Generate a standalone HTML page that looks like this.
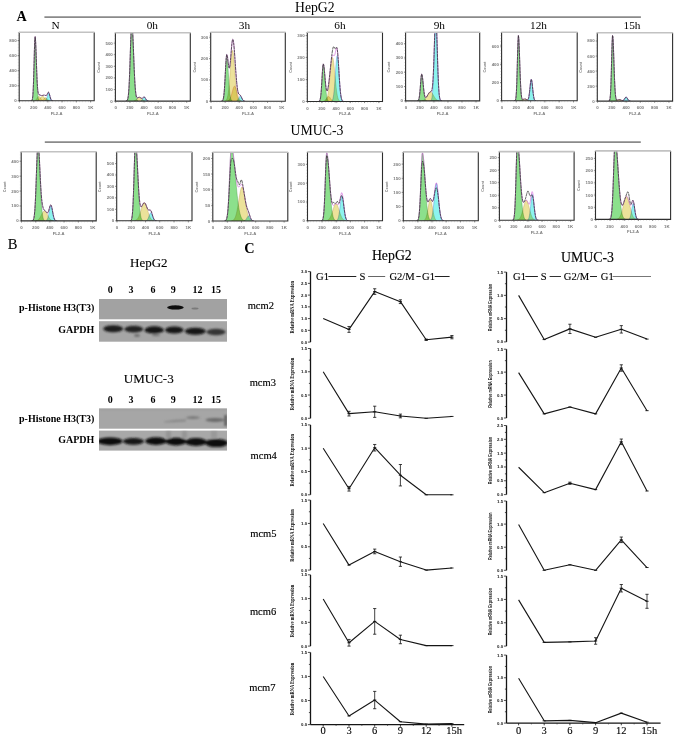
<!DOCTYPE html>
<html><head><meta charset="utf-8"><style>
html,body{margin:0;padding:0;background:#fff;}
#r{position:relative;width:675px;height:737px;overflow:hidden;background:#fff;}
svg{position:absolute;left:0;top:0;}

</style></head><body><div id="r">
<svg width="675" height="737" viewBox="0 0 675 737">
<text x="16.4" y="21.2" font-family="&quot;Liberation Serif&quot;, serif" font-size="14.2" font-weight="bold" text-anchor="start" fill="#000" >A</text>
<line x1="44.4" y1="17.1" x2="640.9" y2="17.1" stroke="#8a8a8a" stroke-width="1.8" />
<text x="295" y="11.6" font-family="&quot;Liberation Serif&quot;, serif" font-size="13.7" text-anchor="start" fill="#000" >HepG2</text>
<line x1="44.8" y1="142.1" x2="640.8" y2="142.1" stroke="#8a8a8a" stroke-width="1.8" />
<text x="290.6" y="134.9" font-family="&quot;Liberation Serif&quot;, serif" font-size="13.8" text-anchor="start" fill="#000" >UMUC-3</text>
<text x="55.5" y="29.4" font-family="&quot;Liberation Serif&quot;, serif" font-size="11.3" text-anchor="middle" fill="#000" >N</text>
<text x="152.3" y="29.4" font-family="&quot;Liberation Serif&quot;, serif" font-size="11.3" text-anchor="middle" fill="#000" >0h</text>
<text x="244.5" y="29.4" font-family="&quot;Liberation Serif&quot;, serif" font-size="11.3" text-anchor="middle" fill="#000" >3h</text>
<text x="340" y="29.4" font-family="&quot;Liberation Serif&quot;, serif" font-size="11.3" text-anchor="middle" fill="#000" >6h</text>
<text x="439.3" y="29.4" font-family="&quot;Liberation Serif&quot;, serif" font-size="11.3" text-anchor="middle" fill="#000" >9h</text>
<text x="538.5" y="29.4" font-family="&quot;Liberation Serif&quot;, serif" font-size="11.3" text-anchor="middle" fill="#000" >12h</text>
<text x="632" y="29.4" font-family="&quot;Liberation Serif&quot;, serif" font-size="11.3" text-anchor="middle" fill="#000" >15h</text>
<clipPath id="c19_32"><rect x="19.2" y="32.3" width="75" height="68.5"/></clipPath>
<g clip-path="url(#c19_32)">
<g style="isolation:isolate">
<path d="M32,100.8 32,100.28 32.4,99.13 32.8,96.26 33.2,90.27 33.6,80.02 34,65.85 34.4,50.71 34.8,39.62 35.2,37 35.6,41.72 36,51.41 36.4,63.53 36.8,75.42 37.2,85.19 37.6,92.14 38,96.46 38.4,98.84 38.8,100 39.2,100.5 L39.2,100.8Z" fill="#8ce08c" stroke="#3c8c3c" stroke-width="0.45" stroke-opacity="0.8" style="mix-blend-mode:multiply"/>
<path d="M34.8,100.8 34.8,100.6 35.2,100.44 35.6,100.19 36,99.83 36.4,99.34 36.8,98.74 37.2,98.07 37.6,97.4 38,96.83 38.4,96.44 38.8,96.3 39.2,96.44 39.6,96.83 40,97.4 40.4,98.07 40.8,98.74 41.2,99.34 41.6,99.83 42,100.19 42.4,100.44 42.8,100.6 L42.8,100.8Z" fill="#ece29a" stroke="#b89848" stroke-width="0.45" stroke-opacity="0.8" style="mix-blend-mode:multiply"/>
<path d="M36.8,100.8 36.8,100.64 37.2,100.55 37.6,100.42 38,100.24 38.4,100.01 38.8,99.71 39.2,99.34 39.6,98.91 40,98.44 40.4,97.95 40.8,97.46 41.2,97.02 41.6,96.66 42,96.41 42.4,96.3 42.8,96.34 43.2,96.52 43.6,96.83 44,97.23 44.4,97.7 44.8,98.19 45.2,98.68 45.6,99.13 46,99.53 46.4,99.86 46.8,100.13 47.2,100.34 47.6,100.49 48,100.6 L48,100.8Z" fill="#ece29a" stroke="#b89848" stroke-width="0.45" stroke-opacity="0.8" style="mix-blend-mode:multiply"/>
<path d="M41.6,100.8 41.6,100.64 42,100.51 42.4,100.31 42.8,100.03 43.2,99.66 43.6,99.22 44,98.74 44.4,98.27 44.8,97.89 45.2,97.66 45.6,97.61 46,97.75 46.4,98.07 46.8,98.5 47.2,98.98 47.6,99.45 48,99.86 48.4,100.18 48.8,100.42 49.2,100.58 L49.2,100.8Z" fill="#ece29a" stroke="#b89848" stroke-width="0.45" stroke-opacity="0.8" style="mix-blend-mode:multiply"/>
<path d="M45.2,100.8 45.2,100.6 45.6,100.35 46,99.88 46.4,99.1 46.8,97.96 47.2,96.53 47.6,94.99 48,93.67 48.4,92.9 48.8,92.9 49.2,93.67 49.6,94.99 50,96.53 50.4,97.96 50.8,99.1 51.2,99.88 51.6,100.35 52,100.6 L52,100.8Z" fill="#8cf4ee" stroke="#3c6cd0" stroke-width="0.45" stroke-opacity="0.8" style="mix-blend-mode:multiply"/>
</g>
<path d="M30.8,100.79 31.2,100.77 31.6,100.66 32,100.28 32.4,99.13 32.8,96.25 33.2,90.26 33.6,80 34,65.8 34.4,50.6 34.8,39.41 35.2,36.63 35.6,41.08 36,50.38 36.4,61.98 36.8,73.2 37.2,82.22 37.6,88.37 38,91.93 38.4,93.68 38.8,94.4 39.2,94.68 39.6,94.84 40,95.01 40.4,95.19 40.8,95.36 41.2,95.47 41.6,95.52 42,95.51 42.4,95.46 42.8,95.37 43.2,95.28 43.6,95.2 44,95.14 44.4,95.14 44.8,95.2 45.2,95.34 45.6,95.49 46,95.56 46.4,95.43 46.8,95 47.2,94.25 47.6,93.33 48,92.53 48.4,92.16 48.8,92.45 49.2,93.41 49.6,94.85 50,96.45 50.4,97.93 50.8,99.08 51.2,99.87 51.6,100.35 52,100.6 52.4,100.72 52.8,100.77" fill="none" stroke="#d060d8" stroke-width="0.6"/>
<path d="M30.8,100.79 31.2,100.77 31.6,100.66 32,100.28 32.4,99.13 32.8,96.25 33.2,90.26 33.6,80 34,65.8 34.4,50.6 34.8,39.41 35.2,36.63 35.6,41.08 36,50.38 36.4,61.98 36.8,73.2 37.2,82.22 37.6,88.37 38,91.93 38.4,93.68 38.8,94.4 39.2,94.68 39.6,94.84 40,95.01 40.4,95.19 40.8,95.36 41.2,95.47 41.6,95.52 42,95.51 42.4,95.46 42.8,95.37 43.2,95.28 43.6,95.2 44,95.14 44.4,95.14 44.8,95.2 45.2,95.34 45.6,95.49 46,95.56 46.4,95.43 46.8,95 47.2,94.25 47.6,93.33 48,92.53 48.4,92.16 48.8,92.45 49.2,93.41 49.6,94.85 50,96.45 50.4,97.93 50.8,99.08 51.2,99.87 51.6,100.35 52,100.6 52.4,100.72 52.8,100.77" fill="none" stroke="#2e2e2e" stroke-width="0.75" stroke-dasharray="3,0.5"/>
</g>
<path d="M19.2,32.3 V100.8 H94.2 V32.3" fill="none" stroke="#2e2e2e" stroke-width="1.1"/>
<line x1="18.9" y1="32.3" x2="94.5" y2="32.3" stroke="#c2c2c2" stroke-width="1.6" />
<line x1="17.6" y1="100.8" x2="19.2" y2="100.8" stroke="#444" stroke-width="0.6" />
<text x="16.6" y="102.3" font-family="&quot;Liberation Sans&quot;, sans-serif" font-size="4.4" font-weight="bold" text-anchor="end" fill="#7a7a7a" >0</text>
<line x1="17.6" y1="85.73" x2="19.2" y2="85.73" stroke="#444" stroke-width="0.6" />
<text x="16.6" y="87.23" font-family="&quot;Liberation Sans&quot;, sans-serif" font-size="4.4" font-weight="bold" text-anchor="end" fill="#7a7a7a" >200</text>
<line x1="17.6" y1="70.66" x2="19.2" y2="70.66" stroke="#444" stroke-width="0.6" />
<text x="16.6" y="72.16" font-family="&quot;Liberation Sans&quot;, sans-serif" font-size="4.4" font-weight="bold" text-anchor="end" fill="#7a7a7a" >400</text>
<line x1="17.6" y1="55.59" x2="19.2" y2="55.59" stroke="#444" stroke-width="0.6" />
<text x="16.6" y="57.09" font-family="&quot;Liberation Sans&quot;, sans-serif" font-size="4.4" font-weight="bold" text-anchor="end" fill="#7a7a7a" >600</text>
<line x1="17.6" y1="40.51" x2="19.2" y2="40.51" stroke="#444" stroke-width="0.6" />
<text x="16.6" y="42.01" font-family="&quot;Liberation Sans&quot;, sans-serif" font-size="4.4" font-weight="bold" text-anchor="end" fill="#7a7a7a" >800</text>
<line x1="18.3" y1="32.3" x2="18.3" y2="100.8" stroke="#888" stroke-width="0.5" stroke-dasharray="0.5,2.5"/>
<line x1="19.5" y1="100.8" x2="19.5" y2="102.4" stroke="#444" stroke-width="0.6" />
<text x="19.5" y="108.9" font-family="&quot;Liberation Sans&quot;, sans-serif" font-size="4.4" font-weight="bold" text-anchor="middle" fill="#7a7a7a" >0</text>
<line x1="33.7" y1="100.8" x2="33.7" y2="102.4" stroke="#444" stroke-width="0.6" />
<text x="33.7" y="108.9" font-family="&quot;Liberation Sans&quot;, sans-serif" font-size="4.4" font-weight="bold" text-anchor="middle" fill="#7a7a7a" >200</text>
<line x1="47.9" y1="100.8" x2="47.9" y2="102.4" stroke="#444" stroke-width="0.6" />
<text x="47.9" y="108.9" font-family="&quot;Liberation Sans&quot;, sans-serif" font-size="4.4" font-weight="bold" text-anchor="middle" fill="#7a7a7a" >400</text>
<line x1="62.1" y1="100.8" x2="62.1" y2="102.4" stroke="#444" stroke-width="0.6" />
<text x="62.1" y="108.9" font-family="&quot;Liberation Sans&quot;, sans-serif" font-size="4.4" font-weight="bold" text-anchor="middle" fill="#7a7a7a" >600</text>
<line x1="76.3" y1="100.8" x2="76.3" y2="102.4" stroke="#444" stroke-width="0.6" />
<text x="76.3" y="108.9" font-family="&quot;Liberation Sans&quot;, sans-serif" font-size="4.4" font-weight="bold" text-anchor="middle" fill="#7a7a7a" >800</text>
<line x1="90.5" y1="100.8" x2="90.5" y2="102.4" stroke="#444" stroke-width="0.6" />
<text x="90.5" y="108.9" font-family="&quot;Liberation Sans&quot;, sans-serif" font-size="4.4" font-weight="bold" text-anchor="middle" fill="#7a7a7a" >1K</text>
<line x1="19.2" y1="101.7" x2="94.2" y2="101.7" stroke="#888" stroke-width="0.5" stroke-dasharray="0.5,2.5"/>
<text x="56.7" y="114.6" font-family="&quot;Liberation Sans&quot;, sans-serif" font-size="4.2" font-weight="bold" text-anchor="middle" fill="#7a7a7a" >FL2-A</text>
<clipPath id="c115_32"><rect x="115.4" y="32.7" width="74.9" height="68.4"/></clipPath>
<g clip-path="url(#c115_32)">
<g style="isolation:isolate">
<path d="M126.6,101.1 126.6,100.91 127,100.63 127.4,100.04 127.8,98.87 128.2,96.72 128.6,93.09 129,87.44 129.4,79.41 129.8,69.03 130.2,56.94 130.6,44.46 131,33.44 131.4,25.82 131.8,23.1 132.2,25 132.6,30.44 133,38.64 133.4,48.56 133.8,59.03 134.2,69.03 134.6,77.84 135,85.04 135.4,90.54 135.8,94.5 136.2,97.17 136.6,98.87 137,99.9 137.4,100.48 137.8,100.8 L137.8,101.1Z" fill="#8ce08c" stroke="#3c8c3c" stroke-width="0.45" stroke-opacity="0.8" style="mix-blend-mode:multiply"/>
<path d="M133.8,101.1 133.8,100.93 134.2,100.84 134.6,100.71 135,100.54 135.4,100.31 135.8,100.03 136.2,99.69 136.6,99.31 137,98.9 137.4,98.48 137.8,98.09 138.2,97.75 138.6,97.49 139,97.34 139.4,97.3 139.8,97.4 140.2,97.61 140.6,97.91 141,98.28 141.4,98.69 141.8,99.11 142.2,99.51 142.6,99.87 143,100.18 143.4,100.43 143.8,100.63 144.2,100.78 144.6,100.89 L144.6,101.1Z" fill="#ece29a" stroke="#b89848" stroke-width="0.45" stroke-opacity="0.8" style="mix-blend-mode:multiply"/>
<path d="M141,101.1 141,100.86 141.4,100.66 141.8,100.33 142.2,99.87 142.6,99.28 143,98.63 143.4,98.01 143.8,97.53 144.2,97.31 144.6,97.39 145,97.75 145.4,98.31 145.8,98.96 146.2,99.59 146.6,100.11 147,100.51 147.4,100.77 147.8,100.93 L147.8,101.1Z" fill="#8cf4ee" stroke="#3c6cd0" stroke-width="0.45" stroke-opacity="0.8" style="mix-blend-mode:multiply"/>
</g>
<path d="M125.8,101.07 126.2,101.03 126.6,100.91 127,100.63 127.4,100.04 127.8,98.87 128.2,96.72 128.6,93.09 129,87.44 129.4,79.41 129.8,69.03 130.2,56.94 130.6,44.46 131,33.44 131.4,25.82 131.8,23.09 132.2,24.98 132.6,30.4 133,38.58 133.4,48.45 133.8,58.86 134.2,68.77 134.6,77.45 135,84.48 135.4,89.75 135.8,93.42 136.2,95.76 136.6,97.08 137,97.7 137.4,97.87 137.8,97.79 138.2,97.61 138.6,97.42 139,97.31 139.4,97.29 139.8,97.37 140.2,97.55 140.6,97.79 141,98.04 141.4,98.25 141.8,98.34 142.2,98.27 142.6,98.05 143,97.71 143.4,97.34 143.8,97.07 144.2,96.99 144.6,97.18 145,97.61 145.4,98.23 145.8,98.91 146.2,99.56 146.6,100.1 147,100.5 147.4,100.77 147.8,100.93 148.2,101.02 148.6,101.07" fill="none" stroke="#d060d8" stroke-width="0.6"/>
<path d="M125.8,101.07 126.2,101.03 126.6,100.91 127,100.63 127.4,100.04 127.8,98.87 128.2,96.72 128.6,93.09 129,87.44 129.4,79.41 129.8,69.03 130.2,56.94 130.6,44.46 131,33.44 131.4,25.82 131.8,23.09 132.2,24.98 132.6,30.4 133,38.58 133.4,48.45 133.8,58.86 134.2,68.77 134.6,77.45 135,84.48 135.4,89.75 135.8,93.42 136.2,95.76 136.6,97.08 137,97.7 137.4,97.87 137.8,97.79 138.2,97.61 138.6,97.42 139,97.31 139.4,97.29 139.8,97.37 140.2,97.55 140.6,97.79 141,98.04 141.4,98.25 141.8,98.34 142.2,98.27 142.6,98.05 143,97.71 143.4,97.34 143.8,97.07 144.2,96.99 144.6,97.18 145,97.61 145.4,98.23 145.8,98.91 146.2,99.56 146.6,100.1 147,100.5 147.4,100.77 147.8,100.93 148.2,101.02 148.6,101.07" fill="none" stroke="#2e2e2e" stroke-width="0.75" stroke-dasharray="3,0.5"/>
</g>
<path d="M115.4,32.7 V101.1 H190.3 V32.7" fill="none" stroke="#2e2e2e" stroke-width="1.1"/>
<line x1="115.1" y1="32.7" x2="190.6" y2="32.7" stroke="#c2c2c2" stroke-width="1.6" />
<line x1="113.8" y1="101.1" x2="115.4" y2="101.1" stroke="#444" stroke-width="0.6" />
<text x="112.8" y="102.6" font-family="&quot;Liberation Sans&quot;, sans-serif" font-size="4.4" font-weight="bold" text-anchor="end" fill="#7a7a7a" >0</text>
<line x1="113.8" y1="89.51" x2="115.4" y2="89.51" stroke="#444" stroke-width="0.6" />
<text x="112.8" y="91.01" font-family="&quot;Liberation Sans&quot;, sans-serif" font-size="4.4" font-weight="bold" text-anchor="end" fill="#7a7a7a" >100</text>
<line x1="113.8" y1="77.91" x2="115.4" y2="77.91" stroke="#444" stroke-width="0.6" />
<text x="112.8" y="79.41" font-family="&quot;Liberation Sans&quot;, sans-serif" font-size="4.4" font-weight="bold" text-anchor="end" fill="#7a7a7a" >200</text>
<line x1="113.8" y1="66.32" x2="115.4" y2="66.32" stroke="#444" stroke-width="0.6" />
<text x="112.8" y="67.82" font-family="&quot;Liberation Sans&quot;, sans-serif" font-size="4.4" font-weight="bold" text-anchor="end" fill="#7a7a7a" >300</text>
<line x1="113.8" y1="54.73" x2="115.4" y2="54.73" stroke="#444" stroke-width="0.6" />
<text x="112.8" y="56.23" font-family="&quot;Liberation Sans&quot;, sans-serif" font-size="4.4" font-weight="bold" text-anchor="end" fill="#7a7a7a" >400</text>
<line x1="113.8" y1="43.13" x2="115.4" y2="43.13" stroke="#444" stroke-width="0.6" />
<text x="112.8" y="44.63" font-family="&quot;Liberation Sans&quot;, sans-serif" font-size="4.4" font-weight="bold" text-anchor="end" fill="#7a7a7a" >500</text>
<line x1="114.5" y1="32.7" x2="114.5" y2="101.1" stroke="#888" stroke-width="0.5" stroke-dasharray="0.5,2.5"/>
<line x1="115.7" y1="101.1" x2="115.7" y2="102.7" stroke="#444" stroke-width="0.6" />
<text x="115.7" y="109.2" font-family="&quot;Liberation Sans&quot;, sans-serif" font-size="4.4" font-weight="bold" text-anchor="middle" fill="#7a7a7a" >0</text>
<line x1="129.88" y1="101.1" x2="129.88" y2="102.7" stroke="#444" stroke-width="0.6" />
<text x="129.88" y="109.2" font-family="&quot;Liberation Sans&quot;, sans-serif" font-size="4.4" font-weight="bold" text-anchor="middle" fill="#7a7a7a" >200</text>
<line x1="144.06" y1="101.1" x2="144.06" y2="102.7" stroke="#444" stroke-width="0.6" />
<text x="144.06" y="109.2" font-family="&quot;Liberation Sans&quot;, sans-serif" font-size="4.4" font-weight="bold" text-anchor="middle" fill="#7a7a7a" >400</text>
<line x1="158.24" y1="101.1" x2="158.24" y2="102.7" stroke="#444" stroke-width="0.6" />
<text x="158.24" y="109.2" font-family="&quot;Liberation Sans&quot;, sans-serif" font-size="4.4" font-weight="bold" text-anchor="middle" fill="#7a7a7a" >600</text>
<line x1="172.42" y1="101.1" x2="172.42" y2="102.7" stroke="#444" stroke-width="0.6" />
<text x="172.42" y="109.2" font-family="&quot;Liberation Sans&quot;, sans-serif" font-size="4.4" font-weight="bold" text-anchor="middle" fill="#7a7a7a" >800</text>
<line x1="186.6" y1="101.1" x2="186.6" y2="102.7" stroke="#444" stroke-width="0.6" />
<text x="186.6" y="109.2" font-family="&quot;Liberation Sans&quot;, sans-serif" font-size="4.4" font-weight="bold" text-anchor="middle" fill="#7a7a7a" >1K</text>
<line x1="115.4" y1="102" x2="190.3" y2="102" stroke="#888" stroke-width="0.5" stroke-dasharray="0.5,2.5"/>
<text x="152.85" y="114.9" font-family="&quot;Liberation Sans&quot;, sans-serif" font-size="4.2" font-weight="bold" text-anchor="middle" fill="#7a7a7a" >FL2-A</text>
<text x="100.2" y="67.4" font-family="&quot;Liberation Sans&quot;, sans-serif" font-size="3.7" font-weight="bold" text-anchor="middle" fill="#7a7a7a" transform="rotate(-90 100.2 67.4)">Count</text>
<clipPath id="c210_32"><rect x="210.7" y="32.3" width="74.6" height="68.9"/></clipPath>
<g clip-path="url(#c210_32)">
<g style="isolation:isolate">
<path d="M222.3,101.2 222.3,100.88 222.7,100.44 223.1,99.55 223.5,97.9 223.9,95.11 224.3,90.85 224.7,84.98 225.1,77.78 225.5,70.03 225.9,62.98 226.3,58 226.7,56.2 227.1,57.43 227.5,60.92 227.9,66.12 228.3,72.3 228.7,78.68 229.1,84.59 229.5,89.61 229.9,93.55 230.3,96.42 230.7,98.38 231.1,99.62 231.5,100.36 231.9,100.78 232.3,101 L232.3,101.2Z" fill="#8ce08c" stroke="#3c8c3c" stroke-width="0.45" stroke-opacity="0.8" style="mix-blend-mode:multiply"/>
<path d="M225.1,101.2 225.1,101.02 225.5,100.88 225.9,100.63 226.3,100.24 226.7,99.62 227.1,98.69 227.5,97.35 227.9,95.47 228.3,92.96 228.7,89.73 229.1,85.75 229.5,81.07 229.9,75.83 230.3,70.27 230.7,64.71 231.1,59.55 231.5,55.21 231.9,52.06 232.3,50.41 232.7,50.41 233.1,52.06 233.5,55.21 233.9,59.55 234.3,64.71 234.7,70.27 235.1,75.83 235.5,81.07 235.9,85.75 236.3,89.73 236.7,92.96 237.1,95.47 237.5,97.35 237.9,98.69 238.3,99.62 238.7,100.24 239.1,100.63 239.5,100.88 239.9,101.02 L239.9,101.2Z" fill="#ece29a" stroke="#b89848" stroke-width="0.45" stroke-opacity="0.8" style="mix-blend-mode:multiply"/>
<path d="M227.5,101.2 227.5,101.01 227.9,100.9 228.3,100.72 228.7,100.47 229.1,100.11 229.5,99.63 229.9,99 230.3,98.19 230.7,97.19 231.1,96.02 231.5,94.69 231.9,93.23 232.3,91.72 232.7,90.24 233.1,88.86 233.5,87.7 233.9,86.82 234.3,86.32 234.7,86.21 235.1,86.52 235.5,87.22 235.9,88.25 236.3,89.53 236.7,90.97 237.1,92.48 237.5,93.97 237.9,95.37 238.3,96.63 238.7,97.71 239.1,98.61 239.5,99.33 239.9,99.89 240.3,100.31 240.7,100.61 241.1,100.82 241.5,100.96 L241.5,101.2Z" fill="#ece29a" stroke="#e07048" stroke-width="0.45" stroke-opacity="0.8" style="mix-blend-mode:multiply"/>
<path d="M236.7,101.2 236.7,100.92 237.1,100.69 237.5,100.32 237.9,99.81 238.3,99.14 238.7,98.37 239.1,97.57 239.5,96.86 239.9,96.37 240.3,96.2 240.7,96.37 241.1,96.86 241.5,97.57 241.9,98.37 242.3,99.14 242.7,99.81 243.1,100.32 243.5,100.69 243.9,100.92 L243.9,101.2Z" fill="#8cf4ee" stroke="#3c6cd0" stroke-width="0.45" stroke-opacity="0.8" style="mix-blend-mode:multiply"/>
</g>
<path d="M221.1,101.18 221.5,101.15 221.9,101.07 222.3,100.88 222.7,100.44 223.1,99.54 223.5,97.89 223.9,95.08 224.3,90.8 224.7,84.88 225.1,77.6 225.5,69.7 225.9,62.39 226.3,57 226.7,54.55 227.1,54.81 227.5,56.87 227.9,60.09 228.3,63.58 228.7,66.47 229.1,68.05 229.5,67.91 229.9,65.98 230.3,62.47 230.7,57.88 231.1,52.79 231.5,47.86 231.9,43.68 232.3,40.74 232.7,39.36 233.1,39.69 233.5,41.69 233.9,45.17 234.3,49.82 234.7,55.27 235.1,61.14 235.5,67.06 235.9,72.73 236.3,77.91 236.7,82.45 237.1,86.24 237.5,89.24 237.9,91.47 238.3,92.99 238.7,93.92 239.1,94.42 239.5,94.67 239.9,94.89 240.3,95.21 240.7,95.73 241.1,96.46 241.5,97.32 241.9,98.22 242.3,99.05 242.7,99.76 243.1,100.3 243.5,100.67 243.9,100.91 244.3,101.05 244.7,101.13 245.1,101.17" fill="none" stroke="#d060d8" stroke-width="0.6"/>
<path d="M221.1,101.18 221.5,101.15 221.9,101.07 222.3,100.88 222.7,100.44 223.1,99.54 223.5,97.89 223.9,95.08 224.3,90.8 224.7,84.88 225.1,77.6 225.5,69.7 225.9,62.39 226.3,57 226.7,54.55 227.1,54.81 227.5,56.87 227.9,60.09 228.3,63.58 228.7,66.47 229.1,68.05 229.5,67.91 229.9,65.98 230.3,62.47 230.7,57.88 231.1,52.79 231.5,47.86 231.9,43.68 232.3,40.74 232.7,39.36 233.1,39.69 233.5,41.69 233.9,45.17 234.3,49.82 234.7,55.27 235.1,61.14 235.5,67.06 235.9,72.73 236.3,77.91 236.7,82.45 237.1,86.24 237.5,89.24 237.9,91.47 238.3,92.99 238.7,93.92 239.1,94.42 239.5,94.67 239.9,94.89 240.3,95.21 240.7,95.73 241.1,96.46 241.5,97.32 241.9,98.22 242.3,99.05 242.7,99.76 243.1,100.3 243.5,100.67 243.9,100.91 244.3,101.05 244.7,101.13 245.1,101.17" fill="none" stroke="#2e2e2e" stroke-width="0.75" stroke-dasharray="3,0.5"/>
</g>
<path d="M210.7,32.3 V101.2 H285.3 V32.3" fill="none" stroke="#2e2e2e" stroke-width="1.1"/>
<line x1="210.4" y1="32.3" x2="285.6" y2="32.3" stroke="#c2c2c2" stroke-width="1.6" />
<line x1="209.1" y1="101.2" x2="210.7" y2="101.2" stroke="#444" stroke-width="0.6" />
<text x="208.1" y="102.7" font-family="&quot;Liberation Sans&quot;, sans-serif" font-size="4.4" font-weight="bold" text-anchor="end" fill="#7a7a7a" >0</text>
<line x1="209.1" y1="79.87" x2="210.7" y2="79.87" stroke="#444" stroke-width="0.6" />
<text x="208.1" y="81.37" font-family="&quot;Liberation Sans&quot;, sans-serif" font-size="4.4" font-weight="bold" text-anchor="end" fill="#7a7a7a" >100</text>
<line x1="209.1" y1="58.54" x2="210.7" y2="58.54" stroke="#444" stroke-width="0.6" />
<text x="208.1" y="60.04" font-family="&quot;Liberation Sans&quot;, sans-serif" font-size="4.4" font-weight="bold" text-anchor="end" fill="#7a7a7a" >200</text>
<line x1="209.1" y1="37.21" x2="210.7" y2="37.21" stroke="#444" stroke-width="0.6" />
<text x="208.1" y="38.71" font-family="&quot;Liberation Sans&quot;, sans-serif" font-size="4.4" font-weight="bold" text-anchor="end" fill="#7a7a7a" >300</text>
<line x1="209.8" y1="32.3" x2="209.8" y2="101.2" stroke="#888" stroke-width="0.5" stroke-dasharray="0.5,2.5"/>
<line x1="211" y1="101.2" x2="211" y2="102.8" stroke="#444" stroke-width="0.6" />
<text x="211" y="109.3" font-family="&quot;Liberation Sans&quot;, sans-serif" font-size="4.4" font-weight="bold" text-anchor="middle" fill="#7a7a7a" >0</text>
<line x1="225.12" y1="101.2" x2="225.12" y2="102.8" stroke="#444" stroke-width="0.6" />
<text x="225.12" y="109.3" font-family="&quot;Liberation Sans&quot;, sans-serif" font-size="4.4" font-weight="bold" text-anchor="middle" fill="#7a7a7a" >200</text>
<line x1="239.24" y1="101.2" x2="239.24" y2="102.8" stroke="#444" stroke-width="0.6" />
<text x="239.24" y="109.3" font-family="&quot;Liberation Sans&quot;, sans-serif" font-size="4.4" font-weight="bold" text-anchor="middle" fill="#7a7a7a" >400</text>
<line x1="253.36" y1="101.2" x2="253.36" y2="102.8" stroke="#444" stroke-width="0.6" />
<text x="253.36" y="109.3" font-family="&quot;Liberation Sans&quot;, sans-serif" font-size="4.4" font-weight="bold" text-anchor="middle" fill="#7a7a7a" >600</text>
<line x1="267.48" y1="101.2" x2="267.48" y2="102.8" stroke="#444" stroke-width="0.6" />
<text x="267.48" y="109.3" font-family="&quot;Liberation Sans&quot;, sans-serif" font-size="4.4" font-weight="bold" text-anchor="middle" fill="#7a7a7a" >800</text>
<line x1="281.6" y1="101.2" x2="281.6" y2="102.8" stroke="#444" stroke-width="0.6" />
<text x="281.6" y="109.3" font-family="&quot;Liberation Sans&quot;, sans-serif" font-size="4.4" font-weight="bold" text-anchor="middle" fill="#7a7a7a" >1K</text>
<line x1="210.7" y1="102.1" x2="285.3" y2="102.1" stroke="#888" stroke-width="0.5" stroke-dasharray="0.5,2.5"/>
<text x="248" y="115" font-family="&quot;Liberation Sans&quot;, sans-serif" font-size="4.2" font-weight="bold" text-anchor="middle" fill="#7a7a7a" >FL2-A</text>
<text x="195.5" y="67.25" font-family="&quot;Liberation Sans&quot;, sans-serif" font-size="3.7" font-weight="bold" text-anchor="middle" fill="#7a7a7a" transform="rotate(-90 195.5 67.25)">Count</text>
<clipPath id="c307_32"><rect x="307.3" y="32.3" width="75.2" height="69.2"/></clipPath>
<g clip-path="url(#c307_32)">
<g style="isolation:isolate">
<path d="M319.3,101.5 319.3,101.17 319.7,100.69 320.1,99.69 320.5,97.82 320.9,94.7 321.3,90.05 321.7,83.96 322.1,77.07 322.5,70.55 322.9,65.83 323.3,64.1 323.7,65.12 324.1,68.02 324.5,72.35 324.9,77.48 325.3,82.78 325.7,87.69 326.1,91.87 326.5,95.14 326.9,97.53 327.3,99.15 327.7,100.19 328.1,100.81 328.5,101.15 328.9,101.34 L328.9,101.5Z" fill="#8ce08c" stroke="#3c8c3c" stroke-width="0.45" stroke-opacity="0.8" style="mix-blend-mode:multiply"/>
<path d="M323.3,101.5 323.3,101.33 323.7,101.22 324.1,101.06 324.5,100.82 324.9,100.51 325.3,100.11 325.7,99.62 326.1,99.07 326.5,98.47 326.9,97.87 327.3,97.32 327.7,96.88 328.1,96.6 328.5,96.5 328.9,96.6 329.3,96.88 329.7,97.32 330.1,97.87 330.5,98.47 330.9,99.07 331.3,99.62 331.7,100.11 332.1,100.51 332.5,100.82 332.9,101.06 333.3,101.22 333.7,101.33 L333.7,101.5Z" fill="#ece29a" stroke="#b89848" stroke-width="0.45" stroke-opacity="0.8" style="mix-blend-mode:multiply"/>
<path d="M324.5,101.5 324.5,101.33 324.9,101.21 325.3,101.01 325.7,100.71 326.1,100.24 326.5,99.57 326.9,98.61 327.3,97.29 327.7,95.55 328.1,93.3 328.5,90.53 328.9,87.22 329.3,83.41 329.7,79.22 330.1,74.81 330.5,70.41 330.9,66.27 331.3,62.67 331.7,59.88 332.1,58.11 332.5,57.5 332.9,58.11 333.3,59.88 333.7,62.67 334.1,66.27 334.5,70.41 334.9,74.81 335.3,79.22 335.7,83.41 336.1,87.22 336.5,90.53 336.9,93.3 337.3,95.55 337.7,97.29 338.1,98.61 338.5,99.57 338.9,100.24 339.3,100.71 339.7,101.01 340.1,101.21 340.5,101.33 L340.5,101.5Z" fill="#ece29a" stroke="#b89848" stroke-width="0.45" stroke-opacity="0.8" style="mix-blend-mode:multiply"/>
<path d="M331.3,101.5 331.3,101.29 331.7,101.07 332.1,100.67 332.5,99.98 332.9,98.85 333.3,97.1 333.7,94.55 334.1,91.06 334.5,86.57 334.9,81.17 335.3,75.15 335.7,68.99 336.1,63.34 336.5,58.85 336.9,56.13 337.3,55.57 337.7,57.24 338.1,60.91 338.5,66.06 338.9,72.05 339.3,78.21 339.7,83.97 340.1,88.94 340.5,92.93 340.9,95.94 341.3,98.06 341.7,99.48 342.1,100.37 342.5,100.9 342.9,101.19 L342.9,101.5Z" fill="#8cf4ee" stroke="#3c6cd0" stroke-width="0.45" stroke-opacity="0.8" style="mix-blend-mode:multiply"/>
</g>
<path d="M318.1,101.49 318.5,101.46 318.9,101.38 319.3,101.17 319.7,100.69 320.1,99.69 320.5,97.82 320.9,94.69 321.3,90.04 321.7,83.95 322.1,77.04 322.5,70.49 322.9,65.72 323.3,63.9 323.7,64.79 324.1,67.48 324.5,71.5 324.9,76.2 325.3,80.9 325.7,85.02 326.1,88.18 326.5,90.17 326.9,91 327.3,90.77 327.7,89.62 328.1,87.71 328.5,85.18 328.9,82.15 329.3,78.72 329.7,75.01 330.1,71.15 330.5,67.32 330.9,63.73 331.3,60.58 331.7,58.06 332.1,56.29 332.5,55.3 332.9,55.01 333.3,55.2 333.7,55.55 334.1,55.73 334.5,55.42 334.9,54.45 335.3,52.85 335.7,50.9 336.1,49.05 336.5,47.88 336.9,47.94 337.3,49.62 337.7,53.03 338.1,58.01 338.5,64.13 338.9,70.79 339.3,77.41 339.7,83.48 340.1,88.64 340.5,92.76 340.9,95.84 341.3,98.01 341.7,99.45 342.1,100.35 342.5,100.89 342.9,101.19 343.3,101.35 343.7,101.43 344.1,101.47" fill="none" stroke="#d060d8" stroke-width="0.6"/>
<path d="M318.1,101.49 318.5,101.46 318.9,101.38 319.3,101.17 319.7,100.69 320.1,99.69 320.5,97.82 320.9,94.69 321.3,90.04 321.7,83.95 322.1,77.04 322.5,70.49 322.9,65.72 323.3,63.9 323.7,64.79 324.1,67.48 324.5,71.5 324.9,76.2 325.3,80.9 325.7,85.02 326.1,88.18 326.5,90.17 326.9,91 327.3,90.77 327.7,89.62 328.1,87.71 328.5,85.18 328.9,82.15 329.3,78.71 329.7,74.98 330.1,71.07 330.5,67.12 330.9,63.25 331.3,59.55 331.7,56.11 332.1,52.99 332.5,50.3 332.9,48.22 333.3,46.95 333.7,46.58 334.1,47.01 334.5,47.83 334.9,48.54 335.3,48.73 335.7,48.33 336.1,47.61 336.5,47.16 336.9,47.62 337.3,49.49 337.7,52.99 338.1,58 338.5,64.12 338.9,70.79 339.3,77.41 339.7,83.48 340.1,88.64 340.5,92.76 340.9,95.84 341.3,98.01 341.7,99.45 342.1,100.35 342.5,100.89 342.9,101.19 343.3,101.35 343.7,101.43 344.1,101.47" fill="none" stroke="#2e2e2e" stroke-width="0.75" stroke-dasharray="3,0.5"/>
</g>
<path d="M307.3,32.3 V101.5 H382.5 V32.3" fill="none" stroke="#2e2e2e" stroke-width="1.1"/>
<line x1="307" y1="32.3" x2="382.8" y2="32.3" stroke="#c2c2c2" stroke-width="1.6" />
<line x1="305.7" y1="101.5" x2="307.3" y2="101.5" stroke="#444" stroke-width="0.6" />
<text x="304.7" y="103" font-family="&quot;Liberation Sans&quot;, sans-serif" font-size="4.4" font-weight="bold" text-anchor="end" fill="#7a7a7a" >0</text>
<line x1="305.7" y1="79.53" x2="307.3" y2="79.53" stroke="#444" stroke-width="0.6" />
<text x="304.7" y="81.03" font-family="&quot;Liberation Sans&quot;, sans-serif" font-size="4.4" font-weight="bold" text-anchor="end" fill="#7a7a7a" >100</text>
<line x1="305.7" y1="57.56" x2="307.3" y2="57.56" stroke="#444" stroke-width="0.6" />
<text x="304.7" y="59.06" font-family="&quot;Liberation Sans&quot;, sans-serif" font-size="4.4" font-weight="bold" text-anchor="end" fill="#7a7a7a" >200</text>
<line x1="305.7" y1="35.6" x2="307.3" y2="35.6" stroke="#444" stroke-width="0.6" />
<text x="304.7" y="37.1" font-family="&quot;Liberation Sans&quot;, sans-serif" font-size="4.4" font-weight="bold" text-anchor="end" fill="#7a7a7a" >300</text>
<line x1="306.4" y1="32.3" x2="306.4" y2="101.5" stroke="#888" stroke-width="0.5" stroke-dasharray="0.5,2.5"/>
<line x1="307.6" y1="101.5" x2="307.6" y2="103.1" stroke="#444" stroke-width="0.6" />
<text x="307.6" y="109.6" font-family="&quot;Liberation Sans&quot;, sans-serif" font-size="4.4" font-weight="bold" text-anchor="middle" fill="#7a7a7a" >0</text>
<line x1="321.84" y1="101.5" x2="321.84" y2="103.1" stroke="#444" stroke-width="0.6" />
<text x="321.84" y="109.6" font-family="&quot;Liberation Sans&quot;, sans-serif" font-size="4.4" font-weight="bold" text-anchor="middle" fill="#7a7a7a" >200</text>
<line x1="336.08" y1="101.5" x2="336.08" y2="103.1" stroke="#444" stroke-width="0.6" />
<text x="336.08" y="109.6" font-family="&quot;Liberation Sans&quot;, sans-serif" font-size="4.4" font-weight="bold" text-anchor="middle" fill="#7a7a7a" >400</text>
<line x1="350.32" y1="101.5" x2="350.32" y2="103.1" stroke="#444" stroke-width="0.6" />
<text x="350.32" y="109.6" font-family="&quot;Liberation Sans&quot;, sans-serif" font-size="4.4" font-weight="bold" text-anchor="middle" fill="#7a7a7a" >600</text>
<line x1="364.56" y1="101.5" x2="364.56" y2="103.1" stroke="#444" stroke-width="0.6" />
<text x="364.56" y="109.6" font-family="&quot;Liberation Sans&quot;, sans-serif" font-size="4.4" font-weight="bold" text-anchor="middle" fill="#7a7a7a" >800</text>
<line x1="378.8" y1="101.5" x2="378.8" y2="103.1" stroke="#444" stroke-width="0.6" />
<text x="378.8" y="109.6" font-family="&quot;Liberation Sans&quot;, sans-serif" font-size="4.4" font-weight="bold" text-anchor="middle" fill="#7a7a7a" >1K</text>
<line x1="307.3" y1="102.4" x2="382.5" y2="102.4" stroke="#888" stroke-width="0.5" stroke-dasharray="0.5,2.5"/>
<text x="344.9" y="115.3" font-family="&quot;Liberation Sans&quot;, sans-serif" font-size="4.2" font-weight="bold" text-anchor="middle" fill="#7a7a7a" >FL2-A</text>
<text x="292.1" y="67.4" font-family="&quot;Liberation Sans&quot;, sans-serif" font-size="3.7" font-weight="bold" text-anchor="middle" fill="#7a7a7a" transform="rotate(-90 292.1 67.4)">Count</text>
<clipPath id="c405_32"><rect x="405.6" y="32.2" width="74.1" height="68.7"/></clipPath>
<g clip-path="url(#c405_32)">
<g style="isolation:isolate">
<path d="M418,100.9 418,100.67 418.4,100.29 418.8,99.45 419.2,97.84 419.6,95.1 420,91.08 420.4,86 420.8,80.67 421.2,76.33 421.6,74.19 422,74.63 422.4,76.86 422.8,80.42 423.2,84.64 423.6,88.88 424,92.63 424.4,95.6 424.8,97.73 425.2,99.14 425.6,99.99 426,100.46 426.4,100.7 L426.4,100.9Z" fill="#8ce08c" stroke="#3c8c3c" stroke-width="0.45" stroke-opacity="0.8" style="mix-blend-mode:multiply"/>
<path d="M422,100.9 422,100.74 422.4,100.66 422.8,100.57 423.2,100.43 423.6,100.26 424,100.04 424.4,99.76 424.8,99.42 425.2,99.01 425.6,98.53 426,97.98 426.4,97.36 426.8,96.69 427.2,95.99 427.6,95.26 428,94.54 428.4,93.86 428.8,93.23 429.2,92.71 429.6,92.3 430,92.02 430.4,91.9 430.8,91.94 431.2,92.14 431.6,92.49 432,92.96 432.4,93.54 432.8,94.19 433.2,94.9 433.6,95.62 434,96.34 434.4,97.03 434.8,97.68 435.2,98.26 435.6,98.78 436,99.22 436.4,99.6 436.8,99.91 437.2,100.16 437.6,100.35 438,100.5 438.4,100.62 438.8,100.7 L438.8,100.9Z" fill="#ece29a" stroke="#b89848" stroke-width="0.45" stroke-opacity="0.8" style="mix-blend-mode:multiply"/>
<path d="M430.8,100.9 430.8,100.58 431.2,100.16 431.6,99.27 432,97.59 432.4,94.62 432.8,89.8 433.2,82.64 433.6,72.93 434,60.99 434.4,47.85 434.8,35.24 435.2,25.2 435.6,19.63 436,19.63 436.4,25.2 436.8,35.24 437.2,47.85 437.6,60.99 438,72.93 438.4,82.64 438.8,89.8 439.2,94.62 439.6,97.59 440,99.27 440.4,100.16 440.8,100.58 L440.8,100.9Z" fill="#8cf4ee" stroke="#3c6cd0" stroke-width="0.45" stroke-opacity="0.8" style="mix-blend-mode:multiply"/>
</g>
<path d="M417.2,100.88 417.6,100.82 418,100.67 418.4,100.29 418.8,99.45 419.2,97.83 419.6,95.09 420,91.06 420.4,85.97 420.8,80.62 421.2,76.25 421.6,74.08 422,74.47 422.4,76.63 422.8,80.08 423.2,84.18 423.6,88.25 424,91.77 424.4,94.46 424.8,96.25 425.2,97.25 425.6,97.62 426,97.54 426.4,97.16 426.8,96.61 427.2,95.95 427.6,95.25 428,94.54 428.4,93.85 428.8,93.23 429.2,92.7 429.6,92.28 430,91.98 430.4,91.78 430.8,91.63 431.2,91.4 431.6,90.86 432,89.64 432.4,87.25 432.8,83.09 433.2,76.64 433.6,67.65 434,56.43 434.4,43.99 434.8,32.02 435.2,22.57 435.6,17.5 436,17.95 436.4,23.9 436.8,34.25 437.2,47.11 437.6,60.44 438,72.53 438.4,82.36 438.8,89.61 439.2,94.48 439.6,97.5 440,99.21 440.4,100.12 440.8,100.56 441.2,100.76 441.6,100.84 442,100.88" fill="none" stroke="#d060d8" stroke-width="0.6"/>
<path d="M417.2,100.88 417.6,100.82 418,100.67 418.4,100.29 418.8,99.45 419.2,97.83 419.6,95.09 420,91.06 420.4,85.97 420.8,80.62 421.2,76.25 421.6,74.08 422,74.47 422.4,76.63 422.8,80.08 423.2,84.18 423.6,88.25 424,91.77 424.4,94.46 424.8,96.25 425.2,97.25 425.6,97.62 426,97.54 426.4,97.16 426.8,96.61 427.2,95.95 427.6,95.25 428,94.54 428.4,93.85 428.8,93.23 429.2,92.7 429.6,92.28 430,91.98 430.4,91.78 430.8,91.63 431.2,91.4 431.6,90.86 432,89.64 432.4,87.25 432.8,83.09 433.2,76.64 433.6,67.65 434,56.43 434.4,43.99 434.8,32.02 435.2,22.57 435.6,17.5 436,17.95 436.4,23.9 436.8,34.25 437.2,47.11 437.6,60.44 438,72.53 438.4,82.36 438.8,89.61 439.2,94.48 439.6,97.5 440,99.21 440.4,100.12 440.8,100.56 441.2,100.76 441.6,100.84 442,100.88" fill="none" stroke="#2e2e2e" stroke-width="0.75" stroke-dasharray="3,0.5"/>
</g>
<path d="M405.6,32.2 V100.9 H479.7 V32.2" fill="none" stroke="#2e2e2e" stroke-width="1.1"/>
<line x1="405.3" y1="32.2" x2="480" y2="32.2" stroke="#c2c2c2" stroke-width="1.6" />
<line x1="404" y1="100.9" x2="405.6" y2="100.9" stroke="#444" stroke-width="0.6" />
<text x="403" y="102.4" font-family="&quot;Liberation Sans&quot;, sans-serif" font-size="4.4" font-weight="bold" text-anchor="end" fill="#7a7a7a" >0</text>
<line x1="404" y1="86.59" x2="405.6" y2="86.59" stroke="#444" stroke-width="0.6" />
<text x="403" y="88.09" font-family="&quot;Liberation Sans&quot;, sans-serif" font-size="4.4" font-weight="bold" text-anchor="end" fill="#7a7a7a" >100</text>
<line x1="404" y1="72.28" x2="405.6" y2="72.28" stroke="#444" stroke-width="0.6" />
<text x="403" y="73.78" font-family="&quot;Liberation Sans&quot;, sans-serif" font-size="4.4" font-weight="bold" text-anchor="end" fill="#7a7a7a" >200</text>
<line x1="404" y1="57.96" x2="405.6" y2="57.96" stroke="#444" stroke-width="0.6" />
<text x="403" y="59.46" font-family="&quot;Liberation Sans&quot;, sans-serif" font-size="4.4" font-weight="bold" text-anchor="end" fill="#7a7a7a" >300</text>
<line x1="404" y1="43.65" x2="405.6" y2="43.65" stroke="#444" stroke-width="0.6" />
<text x="403" y="45.15" font-family="&quot;Liberation Sans&quot;, sans-serif" font-size="4.4" font-weight="bold" text-anchor="end" fill="#7a7a7a" >400</text>
<line x1="404.7" y1="32.2" x2="404.7" y2="100.9" stroke="#888" stroke-width="0.5" stroke-dasharray="0.5,2.5"/>
<line x1="405.9" y1="100.9" x2="405.9" y2="102.5" stroke="#444" stroke-width="0.6" />
<text x="405.9" y="109" font-family="&quot;Liberation Sans&quot;, sans-serif" font-size="4.4" font-weight="bold" text-anchor="middle" fill="#7a7a7a" >0</text>
<line x1="419.92" y1="100.9" x2="419.92" y2="102.5" stroke="#444" stroke-width="0.6" />
<text x="419.92" y="109" font-family="&quot;Liberation Sans&quot;, sans-serif" font-size="4.4" font-weight="bold" text-anchor="middle" fill="#7a7a7a" >200</text>
<line x1="433.94" y1="100.9" x2="433.94" y2="102.5" stroke="#444" stroke-width="0.6" />
<text x="433.94" y="109" font-family="&quot;Liberation Sans&quot;, sans-serif" font-size="4.4" font-weight="bold" text-anchor="middle" fill="#7a7a7a" >400</text>
<line x1="447.96" y1="100.9" x2="447.96" y2="102.5" stroke="#444" stroke-width="0.6" />
<text x="447.96" y="109" font-family="&quot;Liberation Sans&quot;, sans-serif" font-size="4.4" font-weight="bold" text-anchor="middle" fill="#7a7a7a" >600</text>
<line x1="461.98" y1="100.9" x2="461.98" y2="102.5" stroke="#444" stroke-width="0.6" />
<text x="461.98" y="109" font-family="&quot;Liberation Sans&quot;, sans-serif" font-size="4.4" font-weight="bold" text-anchor="middle" fill="#7a7a7a" >800</text>
<line x1="476" y1="100.9" x2="476" y2="102.5" stroke="#444" stroke-width="0.6" />
<text x="476" y="109" font-family="&quot;Liberation Sans&quot;, sans-serif" font-size="4.4" font-weight="bold" text-anchor="middle" fill="#7a7a7a" >1K</text>
<line x1="405.6" y1="101.8" x2="479.7" y2="101.8" stroke="#888" stroke-width="0.5" stroke-dasharray="0.5,2.5"/>
<text x="442.65" y="114.7" font-family="&quot;Liberation Sans&quot;, sans-serif" font-size="4.2" font-weight="bold" text-anchor="middle" fill="#7a7a7a" >FL2-A</text>
<text x="390.4" y="67.05" font-family="&quot;Liberation Sans&quot;, sans-serif" font-size="3.7" font-weight="bold" text-anchor="middle" fill="#7a7a7a" transform="rotate(-90 390.4 67.05)">Count</text>
<clipPath id="c501_32"><rect x="501.6" y="32.3" width="75.6" height="68.5"/></clipPath>
<g clip-path="url(#c501_32)">
<g style="isolation:isolate">
<path d="M515.2,100.8 515.2,100.41 515.6,99.5 516,97.13 516.4,91.95 516.8,82.62 517.2,68.97 517.6,53.31 518,40.43 518.4,35.4 518.8,38.42 519.2,46.68 519.6,58.09 520,70.13 520.4,80.77 520.8,88.9 521.2,94.37 521.6,97.64 522,99.39 522.4,100.22 522.8,100.59 L522.8,100.8Z" fill="#8ce08c" stroke="#3c8c3c" stroke-width="0.45" stroke-opacity="0.8" style="mix-blend-mode:multiply"/>
<path d="M520.4,100.8 520.4,100.64 520.8,100.56 521.2,100.44 521.6,100.3 522,100.12 522.4,99.92 522.8,99.71 523.2,99.49 523.6,99.3 524,99.14 524.4,99.04 524.8,99 525.2,99.04 525.6,99.14 526,99.3 526.4,99.49 526.8,99.71 527.2,99.92 527.6,100.12 528,100.3 528.4,100.44 528.8,100.56 529.2,100.64 L529.2,100.8Z" fill="#ece29a" stroke="#b89848" stroke-width="0.45" stroke-opacity="0.8" style="mix-blend-mode:multiply"/>
<path d="M527.6,100.8 527.6,100.43 528,99.94 528.4,99.01 528.8,97.42 529.2,94.97 529.6,91.66 530,87.76 530.4,83.88 530.8,80.83 531.2,79.36 531.6,79.86 532,82.2 532.4,85.77 532.8,89.75 533.2,93.41 533.6,96.31 534,98.31 534.4,99.55 534.8,100.23 535.2,100.56 L535.2,100.8Z" fill="#8cf4ee" stroke="#3c6cd0" stroke-width="0.45" stroke-opacity="0.8" style="mix-blend-mode:multiply"/>
</g>
<path d="M514,100.8 514.4,100.78 514.8,100.7 515.2,100.41 515.6,99.5 516,97.13 516.4,91.95 516.8,82.62 517.2,68.97 517.6,53.31 518,40.42 518.4,35.39 518.8,38.4 519.2,46.65 519.6,58.03 520,70.03 520.4,80.61 520.8,88.66 521.2,94.01 521.6,97.14 522,98.71 522.4,99.35 522.8,99.5 523.2,99.42 523.6,99.27 524,99.13 524.4,99.03 524.8,99 525.2,99.04 525.6,99.14 526,99.29 526.4,99.48 526.8,99.65 527.2,99.78 527.6,99.75 528,99.44 528.4,98.66 528.8,97.17 529.2,94.81 529.6,91.56 530,87.7 530.4,83.85 530.8,80.81 531.2,79.35 531.6,79.86 532,82.2 532.4,85.77 532.8,89.75 533.2,93.41 533.6,96.3 534,98.31 534.4,99.55 534.8,100.23 535.2,100.56 535.6,100.71 536,100.77" fill="none" stroke="#d060d8" stroke-width="0.6"/>
<path d="M514,100.8 514.4,100.78 514.8,100.7 515.2,100.41 515.6,99.5 516,97.13 516.4,91.95 516.8,82.62 517.2,68.97 517.6,53.31 518,40.42 518.4,35.39 518.8,38.4 519.2,46.65 519.6,58.03 520,70.03 520.4,80.61 520.8,88.66 521.2,94.01 521.6,97.14 522,98.71 522.4,99.35 522.8,99.5 523.2,99.42 523.6,99.27 524,99.13 524.4,99.03 524.8,99 525.2,99.04 525.6,99.14 526,99.29 526.4,99.48 526.8,99.65 527.2,99.78 527.6,99.75 528,99.44 528.4,98.66 528.8,97.17 529.2,94.81 529.6,91.56 530,87.7 530.4,83.85 530.8,80.81 531.2,79.35 531.6,79.86 532,82.2 532.4,85.77 532.8,89.75 533.2,93.41 533.6,96.3 534,98.31 534.4,99.55 534.8,100.23 535.2,100.56 535.6,100.71 536,100.77" fill="none" stroke="#2e2e2e" stroke-width="0.75" stroke-dasharray="3,0.5"/>
</g>
<path d="M501.6,32.3 V100.8 H577.2 V32.3" fill="none" stroke="#2e2e2e" stroke-width="1.1"/>
<line x1="501.3" y1="32.3" x2="577.5" y2="32.3" stroke="#c2c2c2" stroke-width="1.6" />
<line x1="500" y1="100.8" x2="501.6" y2="100.8" stroke="#444" stroke-width="0.6" />
<text x="499" y="102.3" font-family="&quot;Liberation Sans&quot;, sans-serif" font-size="4.4" font-weight="bold" text-anchor="end" fill="#7a7a7a" >0</text>
<line x1="500" y1="82.53" x2="501.6" y2="82.53" stroke="#444" stroke-width="0.6" />
<text x="499" y="84.03" font-family="&quot;Liberation Sans&quot;, sans-serif" font-size="4.4" font-weight="bold" text-anchor="end" fill="#7a7a7a" >200</text>
<line x1="500" y1="64.27" x2="501.6" y2="64.27" stroke="#444" stroke-width="0.6" />
<text x="499" y="65.77" font-family="&quot;Liberation Sans&quot;, sans-serif" font-size="4.4" font-weight="bold" text-anchor="end" fill="#7a7a7a" >400</text>
<line x1="500" y1="46" x2="501.6" y2="46" stroke="#444" stroke-width="0.6" />
<text x="499" y="47.5" font-family="&quot;Liberation Sans&quot;, sans-serif" font-size="4.4" font-weight="bold" text-anchor="end" fill="#7a7a7a" >600</text>
<line x1="500.7" y1="32.3" x2="500.7" y2="100.8" stroke="#888" stroke-width="0.5" stroke-dasharray="0.5,2.5"/>
<line x1="501.9" y1="100.8" x2="501.9" y2="102.4" stroke="#444" stroke-width="0.6" />
<text x="501.9" y="108.9" font-family="&quot;Liberation Sans&quot;, sans-serif" font-size="4.4" font-weight="bold" text-anchor="middle" fill="#7a7a7a" >0</text>
<line x1="516.22" y1="100.8" x2="516.22" y2="102.4" stroke="#444" stroke-width="0.6" />
<text x="516.22" y="108.9" font-family="&quot;Liberation Sans&quot;, sans-serif" font-size="4.4" font-weight="bold" text-anchor="middle" fill="#7a7a7a" >200</text>
<line x1="530.54" y1="100.8" x2="530.54" y2="102.4" stroke="#444" stroke-width="0.6" />
<text x="530.54" y="108.9" font-family="&quot;Liberation Sans&quot;, sans-serif" font-size="4.4" font-weight="bold" text-anchor="middle" fill="#7a7a7a" >400</text>
<line x1="544.86" y1="100.8" x2="544.86" y2="102.4" stroke="#444" stroke-width="0.6" />
<text x="544.86" y="108.9" font-family="&quot;Liberation Sans&quot;, sans-serif" font-size="4.4" font-weight="bold" text-anchor="middle" fill="#7a7a7a" >600</text>
<line x1="559.18" y1="100.8" x2="559.18" y2="102.4" stroke="#444" stroke-width="0.6" />
<text x="559.18" y="108.9" font-family="&quot;Liberation Sans&quot;, sans-serif" font-size="4.4" font-weight="bold" text-anchor="middle" fill="#7a7a7a" >800</text>
<line x1="573.5" y1="100.8" x2="573.5" y2="102.4" stroke="#444" stroke-width="0.6" />
<text x="573.5" y="108.9" font-family="&quot;Liberation Sans&quot;, sans-serif" font-size="4.4" font-weight="bold" text-anchor="middle" fill="#7a7a7a" >1K</text>
<line x1="501.6" y1="101.7" x2="577.2" y2="101.7" stroke="#888" stroke-width="0.5" stroke-dasharray="0.5,2.5"/>
<text x="539.4" y="114.6" font-family="&quot;Liberation Sans&quot;, sans-serif" font-size="4.2" font-weight="bold" text-anchor="middle" fill="#7a7a7a" >FL2-A</text>
<text x="486.4" y="67.05" font-family="&quot;Liberation Sans&quot;, sans-serif" font-size="3.7" font-weight="bold" text-anchor="middle" fill="#7a7a7a" transform="rotate(-90 486.4 67.05)">Count</text>
<clipPath id="c597_32"><rect x="597.3" y="32.7" width="75.3" height="68.4"/></clipPath>
<g clip-path="url(#c597_32)">
<g style="isolation:isolate">
<path d="M609.3,101.1 609.3,100.82 609.7,100.12 610.1,98.2 610.5,93.82 610.9,85.54 611.3,72.75 611.7,57.08 612.1,42.86 612.5,35.43 612.9,36.83 613.3,44.01 613.7,54.96 614.1,67.18 614.5,78.42 614.9,87.3 615.3,93.46 615.7,97.26 616.1,99.34 616.5,100.37 616.9,100.82 L616.9,101.1Z" fill="#8ce08c" stroke="#3c8c3c" stroke-width="0.45" stroke-opacity="0.8" style="mix-blend-mode:multiply"/>
<path d="M615.3,101.1 615.3,100.88 615.7,100.78 616.1,100.65 616.5,100.5 616.9,100.33 617.3,100.14 617.7,99.97 618.1,99.81 618.5,99.69 618.9,99.62 619.3,99.6 619.7,99.65 620.1,99.74 620.5,99.89 620.9,100.05 621.3,100.24 621.7,100.41 622.1,100.58 622.5,100.72 622.9,100.83 623.3,100.92 L623.3,101.1Z" fill="#ece29a" stroke="#b89848" stroke-width="0.45" stroke-opacity="0.8" style="mix-blend-mode:multiply"/>
<path d="M622.9,101.1 622.9,100.81 623.3,100.56 623.7,100.18 624.1,99.66 624.5,99.02 624.9,98.33 625.3,97.7 625.7,97.26 626.1,97.1 626.5,97.26 626.9,97.7 627.3,98.33 627.7,99.02 628.1,99.66 628.5,100.18 628.9,100.56 629.3,100.81 L629.3,101.1Z" fill="#8cf4ee" stroke="#3c6cd0" stroke-width="0.45" stroke-opacity="0.8" style="mix-blend-mode:multiply"/>
</g>
<path d="M608.5,101.09 608.9,101.03 609.3,100.82 609.7,100.12 610.1,98.2 610.5,93.82 610.9,85.54 611.3,72.75 611.7,57.08 612.1,42.85 612.5,35.42 612.9,36.82 613.3,43.99 613.7,54.93 614.1,67.12 614.5,78.32 614.9,87.15 615.3,93.24 615.7,96.93 616.1,98.89 616.5,99.76 616.9,100.05 617.3,100.05 617.7,99.94 618.1,99.8 618.5,99.69 618.9,99.62 619.3,99.6 619.7,99.65 620.1,99.74 620.5,99.88 620.9,100.05 621.3,100.22 621.7,100.38 622.1,100.51 622.5,100.57 622.9,100.54 623.3,100.38 623.7,100.06 624.1,99.58 624.5,98.97 624.9,98.3 625.3,97.69 625.7,97.25 626.1,97.1 626.5,97.26 626.9,97.7 627.3,98.33 627.7,99.02 628.1,99.66 628.5,100.18 628.9,100.56 629.3,100.81 629.7,100.95 630.1,101.03 630.5,101.07" fill="none" stroke="#d060d8" stroke-width="0.6"/>
<path d="M608.5,101.09 608.9,101.03 609.3,100.82 609.7,100.12 610.1,98.2 610.5,93.82 610.9,85.54 611.3,72.75 611.7,57.08 612.1,42.85 612.5,35.42 612.9,36.82 613.3,43.99 613.7,54.93 614.1,67.12 614.5,78.32 614.9,87.15 615.3,93.24 615.7,96.93 616.1,98.89 616.5,99.76 616.9,100.05 617.3,100.05 617.7,99.94 618.1,99.8 618.5,99.69 618.9,99.62 619.3,99.6 619.7,99.65 620.1,99.74 620.5,99.88 620.9,100.05 621.3,100.22 621.7,100.38 622.1,100.51 622.5,100.57 622.9,100.54 623.3,100.38 623.7,100.06 624.1,99.58 624.5,98.97 624.9,98.3 625.3,97.69 625.7,97.25 626.1,97.1 626.5,97.26 626.9,97.7 627.3,98.33 627.7,99.02 628.1,99.66 628.5,100.18 628.9,100.56 629.3,100.81 629.7,100.95 630.1,101.03 630.5,101.07" fill="none" stroke="#2e2e2e" stroke-width="0.75" stroke-dasharray="3,0.5"/>
</g>
<path d="M597.3,32.7 V101.1 H672.6 V32.7" fill="none" stroke="#2e2e2e" stroke-width="1.1"/>
<line x1="597" y1="32.7" x2="672.9" y2="32.7" stroke="#c2c2c2" stroke-width="1.6" />
<line x1="595.7" y1="101.1" x2="597.3" y2="101.1" stroke="#444" stroke-width="0.6" />
<text x="594.7" y="102.6" font-family="&quot;Liberation Sans&quot;, sans-serif" font-size="4.4" font-weight="bold" text-anchor="end" fill="#7a7a7a" >0</text>
<line x1="595.7" y1="86.07" x2="597.3" y2="86.07" stroke="#444" stroke-width="0.6" />
<text x="594.7" y="87.57" font-family="&quot;Liberation Sans&quot;, sans-serif" font-size="4.4" font-weight="bold" text-anchor="end" fill="#7a7a7a" >200</text>
<line x1="595.7" y1="71.03" x2="597.3" y2="71.03" stroke="#444" stroke-width="0.6" />
<text x="594.7" y="72.53" font-family="&quot;Liberation Sans&quot;, sans-serif" font-size="4.4" font-weight="bold" text-anchor="end" fill="#7a7a7a" >400</text>
<line x1="595.7" y1="56" x2="597.3" y2="56" stroke="#444" stroke-width="0.6" />
<text x="594.7" y="57.5" font-family="&quot;Liberation Sans&quot;, sans-serif" font-size="4.4" font-weight="bold" text-anchor="end" fill="#7a7a7a" >600</text>
<line x1="595.7" y1="40.97" x2="597.3" y2="40.97" stroke="#444" stroke-width="0.6" />
<text x="594.7" y="42.47" font-family="&quot;Liberation Sans&quot;, sans-serif" font-size="4.4" font-weight="bold" text-anchor="end" fill="#7a7a7a" >800</text>
<line x1="596.4" y1="32.7" x2="596.4" y2="101.1" stroke="#888" stroke-width="0.5" stroke-dasharray="0.5,2.5"/>
<line x1="597.6" y1="101.1" x2="597.6" y2="102.7" stroke="#444" stroke-width="0.6" />
<text x="597.6" y="109.2" font-family="&quot;Liberation Sans&quot;, sans-serif" font-size="4.4" font-weight="bold" text-anchor="middle" fill="#7a7a7a" >0</text>
<line x1="611.86" y1="101.1" x2="611.86" y2="102.7" stroke="#444" stroke-width="0.6" />
<text x="611.86" y="109.2" font-family="&quot;Liberation Sans&quot;, sans-serif" font-size="4.4" font-weight="bold" text-anchor="middle" fill="#7a7a7a" >200</text>
<line x1="626.12" y1="101.1" x2="626.12" y2="102.7" stroke="#444" stroke-width="0.6" />
<text x="626.12" y="109.2" font-family="&quot;Liberation Sans&quot;, sans-serif" font-size="4.4" font-weight="bold" text-anchor="middle" fill="#7a7a7a" >400</text>
<line x1="640.38" y1="101.1" x2="640.38" y2="102.7" stroke="#444" stroke-width="0.6" />
<text x="640.38" y="109.2" font-family="&quot;Liberation Sans&quot;, sans-serif" font-size="4.4" font-weight="bold" text-anchor="middle" fill="#7a7a7a" >600</text>
<line x1="654.64" y1="101.1" x2="654.64" y2="102.7" stroke="#444" stroke-width="0.6" />
<text x="654.64" y="109.2" font-family="&quot;Liberation Sans&quot;, sans-serif" font-size="4.4" font-weight="bold" text-anchor="middle" fill="#7a7a7a" >800</text>
<line x1="668.9" y1="101.1" x2="668.9" y2="102.7" stroke="#444" stroke-width="0.6" />
<text x="668.9" y="109.2" font-family="&quot;Liberation Sans&quot;, sans-serif" font-size="4.4" font-weight="bold" text-anchor="middle" fill="#7a7a7a" >1K</text>
<line x1="597.3" y1="102" x2="672.6" y2="102" stroke="#888" stroke-width="0.5" stroke-dasharray="0.5,2.5"/>
<text x="634.95" y="114.9" font-family="&quot;Liberation Sans&quot;, sans-serif" font-size="4.2" font-weight="bold" text-anchor="middle" fill="#7a7a7a" >FL2-A</text>
<text x="582.1" y="67.4" font-family="&quot;Liberation Sans&quot;, sans-serif" font-size="3.7" font-weight="bold" text-anchor="middle" fill="#7a7a7a" transform="rotate(-90 582.1 67.4)">Count</text>
<clipPath id="c21_151"><rect x="21.2" y="151.7" width="75" height="69.2"/></clipPath>
<g clip-path="url(#c21_151)">
<g style="isolation:isolate">
<path d="M32.4,220.9 32.4,220.73 32.8,220.51 33.2,220.06 33.6,219.17 34,217.56 34.4,214.85 34.8,210.61 35.2,204.46 35.6,196.23 36,186.1 36.4,174.8 36.8,163.53 37.2,153.83 37.6,147.24 38,144.9 38.4,146.4 38.8,150.74 39.2,157.42 39.6,165.71 40,174.8 40.4,183.91 40.8,192.38 41.2,199.77 41.6,205.86 42,210.61 42.4,214.14 42.8,216.63 43.2,218.31 43.6,219.39 44,220.06 44.4,220.45 44.8,220.67 L44.8,220.9Z" fill="#8ce08c" stroke="#3c8c3c" stroke-width="0.45" stroke-opacity="0.8" style="mix-blend-mode:multiply"/>
<path d="M36,220.9 36,220.72 36.4,220.64 36.8,220.53 37.2,220.38 37.6,220.19 38,219.94 38.4,219.63 38.8,219.26 39.2,218.8 39.6,218.27 40,217.65 40.4,216.97 40.8,216.23 41.2,215.44 41.6,214.63 42,213.83 42.4,213.07 42.8,212.38 43.2,211.8 43.6,211.34 44,211.04 44.4,210.91 44.8,210.95 45.2,211.17 45.6,211.55 46,212.08 46.4,212.72 46.8,213.45 47.2,214.23 47.6,215.04 48,215.84 48.4,216.6 48.8,217.32 49.2,217.97 49.6,218.54 50,219.04 50.4,219.45 50.8,219.8 51.2,220.07 51.6,220.29 52,220.46 52.4,220.59 52.8,220.68 L52.8,220.9Z" fill="#ece29a" stroke="#b89848" stroke-width="0.45" stroke-opacity="0.8" style="mix-blend-mode:multiply"/>
<path d="M46,220.9 46,220.66 46.4,220.45 46.8,220.08 47.2,219.5 47.6,218.62 48,217.4 48.4,215.81 48.8,213.91 49.2,211.8 49.6,209.7 50,207.86 50.4,206.53 50.8,205.93 51.2,206.13 51.6,207.12 52,208.73 52.4,210.74 52.8,212.87 53.2,214.89 53.6,216.65 54,218.06 54.4,219.1 54.8,219.82 55.2,220.29 55.6,220.57 56,220.73 L56,220.9Z" fill="#8cf4ee" stroke="#3c6cd0" stroke-width="0.45" stroke-opacity="0.8" style="mix-blend-mode:multiply"/>
</g>
<path d="M31.6,220.87 32,220.83 32.4,220.73 32.8,220.51 33.2,220.05 33.6,219.15 34,217.54 34.4,214.82 34.8,210.56 35.2,204.38 35.6,196.1 36,185.92 36.4,174.54 36.8,163.16 37.2,153.31 37.6,146.53 38,143.94 38.4,145.14 38.8,149.1 39.2,155.32 39.6,163.08 40,171.56 40.4,179.98 40.8,187.7 41.2,194.31 41.6,199.59 42,203.55 42.4,206.31 42.8,208.12 43.2,209.21 43.6,209.83 44,210.19 44.4,210.44 44.8,210.69 45.2,211 45.6,211.38 46,211.81 46.4,212.25 46.8,212.62 47.2,212.82 47.6,212.76 48,212.34 48.4,211.52 48.8,210.33 49.2,208.87 49.6,207.35 50,206 50.4,205.09 50.8,204.82 51.2,205.31 51.6,206.51 52,208.29 52.4,210.42 52.8,212.65 53.2,214.74 53.6,216.55 54,217.99 54.4,219.06 54.8,219.79 55.2,220.27 55.6,220.56 56,220.73 56.4,220.82 56.8,220.86" fill="none" stroke="#d060d8" stroke-width="0.6"/>
<path d="M31.6,220.87 32,220.83 32.4,220.73 32.8,220.51 33.2,220.05 33.6,219.15 34,217.54 34.4,214.82 34.8,210.56 35.2,204.38 35.6,196.1 36,185.92 36.4,174.54 36.8,163.16 37.2,153.31 37.6,146.53 38,143.94 38.4,145.14 38.8,149.1 39.2,155.31 39.6,163.05 40,171.47 40.4,179.76 40.8,187.23 41.2,193.45 41.6,198.26 42,201.78 42.4,204.32 42.8,206.2 43.2,207.64 43.6,208.74 44,209.54 44.4,210.11 44.8,210.55 45.2,210.95 45.6,211.36 46,211.81 46.4,212.25 46.8,212.62 47.2,212.82 47.6,212.76 48,212.34 48.4,211.52 48.8,210.33 49.2,208.87 49.6,207.35 50,206 50.4,205.09 50.8,204.82 51.2,205.31 51.6,206.51 52,208.29 52.4,210.42 52.8,212.65 53.2,214.74 53.6,216.55 54,217.99 54.4,219.06 54.8,219.79 55.2,220.27 55.6,220.56 56,220.73 56.4,220.82 56.8,220.86" fill="none" stroke="#2e2e2e" stroke-width="0.75" stroke-dasharray="3,0.5"/>
</g>
<path d="M21.2,151.7 V220.9 H96.2 V151.7" fill="none" stroke="#2e2e2e" stroke-width="1.1"/>
<line x1="20.9" y1="151.7" x2="96.5" y2="151.7" stroke="#c2c2c2" stroke-width="1.6" />
<line x1="19.6" y1="220.9" x2="21.2" y2="220.9" stroke="#444" stroke-width="0.6" />
<text x="18.6" y="222.4" font-family="&quot;Liberation Sans&quot;, sans-serif" font-size="4.4" font-weight="bold" text-anchor="end" fill="#7a7a7a" >0</text>
<line x1="19.6" y1="205.99" x2="21.2" y2="205.99" stroke="#444" stroke-width="0.6" />
<text x="18.6" y="207.49" font-family="&quot;Liberation Sans&quot;, sans-serif" font-size="4.4" font-weight="bold" text-anchor="end" fill="#7a7a7a" >100</text>
<line x1="19.6" y1="191.07" x2="21.2" y2="191.07" stroke="#444" stroke-width="0.6" />
<text x="18.6" y="192.57" font-family="&quot;Liberation Sans&quot;, sans-serif" font-size="4.4" font-weight="bold" text-anchor="end" fill="#7a7a7a" >200</text>
<line x1="19.6" y1="176.16" x2="21.2" y2="176.16" stroke="#444" stroke-width="0.6" />
<text x="18.6" y="177.66" font-family="&quot;Liberation Sans&quot;, sans-serif" font-size="4.4" font-weight="bold" text-anchor="end" fill="#7a7a7a" >300</text>
<line x1="19.6" y1="161.24" x2="21.2" y2="161.24" stroke="#444" stroke-width="0.6" />
<text x="18.6" y="162.74" font-family="&quot;Liberation Sans&quot;, sans-serif" font-size="4.4" font-weight="bold" text-anchor="end" fill="#7a7a7a" >400</text>
<line x1="20.3" y1="151.7" x2="20.3" y2="220.9" stroke="#888" stroke-width="0.5" stroke-dasharray="0.5,2.5"/>
<line x1="21.5" y1="220.9" x2="21.5" y2="222.5" stroke="#444" stroke-width="0.6" />
<text x="21.5" y="229" font-family="&quot;Liberation Sans&quot;, sans-serif" font-size="4.4" font-weight="bold" text-anchor="middle" fill="#7a7a7a" >0</text>
<line x1="35.7" y1="220.9" x2="35.7" y2="222.5" stroke="#444" stroke-width="0.6" />
<text x="35.7" y="229" font-family="&quot;Liberation Sans&quot;, sans-serif" font-size="4.4" font-weight="bold" text-anchor="middle" fill="#7a7a7a" >200</text>
<line x1="49.9" y1="220.9" x2="49.9" y2="222.5" stroke="#444" stroke-width="0.6" />
<text x="49.9" y="229" font-family="&quot;Liberation Sans&quot;, sans-serif" font-size="4.4" font-weight="bold" text-anchor="middle" fill="#7a7a7a" >400</text>
<line x1="64.1" y1="220.9" x2="64.1" y2="222.5" stroke="#444" stroke-width="0.6" />
<text x="64.1" y="229" font-family="&quot;Liberation Sans&quot;, sans-serif" font-size="4.4" font-weight="bold" text-anchor="middle" fill="#7a7a7a" >600</text>
<line x1="78.3" y1="220.9" x2="78.3" y2="222.5" stroke="#444" stroke-width="0.6" />
<text x="78.3" y="229" font-family="&quot;Liberation Sans&quot;, sans-serif" font-size="4.4" font-weight="bold" text-anchor="middle" fill="#7a7a7a" >800</text>
<line x1="92.5" y1="220.9" x2="92.5" y2="222.5" stroke="#444" stroke-width="0.6" />
<text x="92.5" y="229" font-family="&quot;Liberation Sans&quot;, sans-serif" font-size="4.4" font-weight="bold" text-anchor="middle" fill="#7a7a7a" >1K</text>
<line x1="21.2" y1="221.8" x2="96.2" y2="221.8" stroke="#888" stroke-width="0.5" stroke-dasharray="0.5,2.5"/>
<text x="58.7" y="234.7" font-family="&quot;Liberation Sans&quot;, sans-serif" font-size="4.2" font-weight="bold" text-anchor="middle" fill="#7a7a7a" >FL2-A</text>
<text x="6" y="186.8" font-family="&quot;Liberation Sans&quot;, sans-serif" font-size="3.7" font-weight="bold" text-anchor="middle" fill="#7a7a7a" transform="rotate(-90 6 186.8)">Count</text>
<clipPath id="c116_151"><rect x="116.7" y="151.9" width="75.3" height="68.9"/></clipPath>
<g clip-path="url(#c116_151)">
<g style="isolation:isolate">
<path d="M130.7,220.8 130.7,220.58 131.1,220.24 131.5,219.48 131.9,217.94 132.3,215.08 132.7,210.24 133.1,202.85 133.5,192.69 133.9,180.2 134.3,166.78 134.7,154.55 135.1,145.92 135.5,142.8 135.9,144.08 136.3,147.79 136.7,153.58 137.1,160.93 137.5,169.2 137.9,177.78 138.3,186.1 138.7,193.72 139.1,200.35 139.5,205.86 139.9,210.24 140.3,213.58 140.7,216.03 141.1,217.74 141.5,218.91 141.9,219.67 142.3,220.14 142.7,220.43 143.1,220.6 L143.1,220.8Z" fill="#8ce08c" stroke="#3c8c3c" stroke-width="0.45" stroke-opacity="0.8" style="mix-blend-mode:multiply"/>
<path d="M134.7,220.8 134.7,220.6 135.1,220.51 135.5,220.39 135.9,220.23 136.3,220.01 136.7,219.73 137.1,219.37 137.5,218.92 137.9,218.36 138.3,217.7 138.7,216.91 139.1,215.99 139.5,214.96 139.9,213.81 140.3,212.56 140.7,211.24 141.1,209.88 141.5,208.53 141.9,207.21 142.3,205.99 142.7,204.92 143.1,204.02 143.5,203.35 143.9,202.94 144.3,202.8 144.7,202.94 145.1,203.35 145.5,204.02 145.9,204.92 146.3,205.99 146.7,207.21 147.1,208.53 147.5,209.88 147.9,211.24 148.3,212.56 148.7,213.81 149.1,214.96 149.5,215.99 149.9,216.91 150.3,217.7 150.7,218.36 151.1,218.92 151.5,219.37 151.9,219.73 152.3,220.01 152.7,220.23 153.1,220.39 153.5,220.51 153.9,220.6 L153.9,220.8Z" fill="#ece29a" stroke="#b89848" stroke-width="0.45" stroke-opacity="0.8" style="mix-blend-mode:multiply"/>
<path d="M146.3,220.8 146.3,220.56 146.7,220.36 147.1,220.05 147.5,219.58 147.9,218.93 148.3,218.09 148.7,217.07 149.1,215.95 149.5,214.83 149.9,213.85 150.3,213.14 150.7,212.81 151.1,212.92 151.5,213.45 151.9,214.31 152.3,215.38 152.7,216.52 153.1,217.6 153.5,218.53 153.9,219.28 154.3,219.84 154.7,220.22 155.1,220.47 155.5,220.62 L155.5,220.8Z" fill="#8cf4ee" stroke="#3c6cd0" stroke-width="0.45" stroke-opacity="0.8" style="mix-blend-mode:multiply"/>
</g>
<path d="M129.9,220.77 130.3,220.72 130.7,220.58 131.1,220.24 131.5,219.48 131.9,217.93 132.3,215.06 132.7,210.22 133.1,202.82 133.5,192.62 133.9,180.11 134.3,166.64 134.7,154.35 135.1,145.63 135.5,142.39 135.9,143.5 136.3,147 136.7,152.51 137.1,159.49 137.5,167.32 137.9,175.34 138.3,182.99 138.7,189.83 139.1,195.55 139.5,200.02 139.9,203.25 140.3,205.34 140.7,206.47 141.1,206.83 141.5,206.63 141.9,206.08 142.3,205.34 142.7,204.55 143.1,203.82 143.5,203.25 143.9,202.88 144.3,202.77 144.7,202.91 145.1,203.32 145.5,203.96 145.9,204.79 146.3,205.75 146.7,206.78 147.1,207.78 147.5,208.67 147.9,209.37 148.3,209.85 148.7,210.08 149.1,210.1 149.5,210.02 149.9,209.95 150.3,210.04 150.7,210.38 151.1,211.04 151.5,212.02 151.9,213.24 152.3,214.59 152.7,215.94 153.1,217.19 153.5,218.24 153.9,219.08 154.3,219.7 154.7,220.13 155.1,220.41 155.5,220.59 155.9,220.69 156.3,220.74 156.7,220.77" fill="none" stroke="#d060d8" stroke-width="0.6"/>
<path d="M129.9,220.77 130.3,220.72 130.7,220.58 131.1,220.24 131.5,219.48 131.9,217.93 132.3,215.06 132.7,210.22 133.1,202.82 133.5,192.62 133.9,180.11 134.3,166.64 134.7,154.35 135.1,145.63 135.5,142.39 135.9,143.5 136.3,147 136.7,152.51 137.1,159.49 137.5,167.32 137.9,175.34 138.3,182.99 138.7,189.83 139.1,195.55 139.5,200.02 139.9,203.25 140.3,205.34 140.7,206.47 141.1,206.83 141.5,206.63 141.9,206.08 142.3,205.34 142.7,204.55 143.1,203.82 143.5,203.25 143.9,202.88 144.3,202.77 144.7,202.91 145.1,203.32 145.5,203.96 145.9,204.79 146.3,205.75 146.7,206.78 147.1,207.78 147.5,208.67 147.9,209.37 148.3,209.85 148.7,210.08 149.1,210.1 149.5,210.02 149.9,209.95 150.3,210.04 150.7,210.38 151.1,211.04 151.5,212.02 151.9,213.24 152.3,214.59 152.7,215.94 153.1,217.19 153.5,218.24 153.9,219.08 154.3,219.7 154.7,220.13 155.1,220.41 155.5,220.59 155.9,220.69 156.3,220.74 156.7,220.77" fill="none" stroke="#2e2e2e" stroke-width="0.75" stroke-dasharray="3,0.5"/>
</g>
<path d="M116.7,151.9 V220.8 H192 V151.9" fill="none" stroke="#2e2e2e" stroke-width="1.1"/>
<line x1="116.4" y1="151.9" x2="192.3" y2="151.9" stroke="#c2c2c2" stroke-width="1.6" />
<line x1="115.1" y1="220.8" x2="116.7" y2="220.8" stroke="#444" stroke-width="0.6" />
<text x="114.1" y="222.3" font-family="&quot;Liberation Sans&quot;, sans-serif" font-size="4.4" font-weight="bold" text-anchor="end" fill="#7a7a7a" >0</text>
<line x1="115.1" y1="209.34" x2="116.7" y2="209.34" stroke="#444" stroke-width="0.6" />
<text x="114.1" y="210.84" font-family="&quot;Liberation Sans&quot;, sans-serif" font-size="4.4" font-weight="bold" text-anchor="end" fill="#7a7a7a" >100</text>
<line x1="115.1" y1="197.87" x2="116.7" y2="197.87" stroke="#444" stroke-width="0.6" />
<text x="114.1" y="199.37" font-family="&quot;Liberation Sans&quot;, sans-serif" font-size="4.4" font-weight="bold" text-anchor="end" fill="#7a7a7a" >200</text>
<line x1="115.1" y1="186.41" x2="116.7" y2="186.41" stroke="#444" stroke-width="0.6" />
<text x="114.1" y="187.91" font-family="&quot;Liberation Sans&quot;, sans-serif" font-size="4.4" font-weight="bold" text-anchor="end" fill="#7a7a7a" >300</text>
<line x1="115.1" y1="174.94" x2="116.7" y2="174.94" stroke="#444" stroke-width="0.6" />
<text x="114.1" y="176.44" font-family="&quot;Liberation Sans&quot;, sans-serif" font-size="4.4" font-weight="bold" text-anchor="end" fill="#7a7a7a" >400</text>
<line x1="115.1" y1="163.48" x2="116.7" y2="163.48" stroke="#444" stroke-width="0.6" />
<text x="114.1" y="164.98" font-family="&quot;Liberation Sans&quot;, sans-serif" font-size="4.4" font-weight="bold" text-anchor="end" fill="#7a7a7a" >500</text>
<line x1="115.8" y1="151.9" x2="115.8" y2="220.8" stroke="#888" stroke-width="0.5" stroke-dasharray="0.5,2.5"/>
<line x1="117" y1="220.8" x2="117" y2="222.4" stroke="#444" stroke-width="0.6" />
<text x="117" y="228.9" font-family="&quot;Liberation Sans&quot;, sans-serif" font-size="4.4" font-weight="bold" text-anchor="middle" fill="#7a7a7a" >0</text>
<line x1="131.26" y1="220.8" x2="131.26" y2="222.4" stroke="#444" stroke-width="0.6" />
<text x="131.26" y="228.9" font-family="&quot;Liberation Sans&quot;, sans-serif" font-size="4.4" font-weight="bold" text-anchor="middle" fill="#7a7a7a" >200</text>
<line x1="145.52" y1="220.8" x2="145.52" y2="222.4" stroke="#444" stroke-width="0.6" />
<text x="145.52" y="228.9" font-family="&quot;Liberation Sans&quot;, sans-serif" font-size="4.4" font-weight="bold" text-anchor="middle" fill="#7a7a7a" >400</text>
<line x1="159.78" y1="220.8" x2="159.78" y2="222.4" stroke="#444" stroke-width="0.6" />
<text x="159.78" y="228.9" font-family="&quot;Liberation Sans&quot;, sans-serif" font-size="4.4" font-weight="bold" text-anchor="middle" fill="#7a7a7a" >600</text>
<line x1="174.04" y1="220.8" x2="174.04" y2="222.4" stroke="#444" stroke-width="0.6" />
<text x="174.04" y="228.9" font-family="&quot;Liberation Sans&quot;, sans-serif" font-size="4.4" font-weight="bold" text-anchor="middle" fill="#7a7a7a" >800</text>
<line x1="188.3" y1="220.8" x2="188.3" y2="222.4" stroke="#444" stroke-width="0.6" />
<text x="188.3" y="228.9" font-family="&quot;Liberation Sans&quot;, sans-serif" font-size="4.4" font-weight="bold" text-anchor="middle" fill="#7a7a7a" >1K</text>
<line x1="116.7" y1="221.7" x2="192" y2="221.7" stroke="#888" stroke-width="0.5" stroke-dasharray="0.5,2.5"/>
<text x="154.35" y="234.6" font-family="&quot;Liberation Sans&quot;, sans-serif" font-size="4.2" font-weight="bold" text-anchor="middle" fill="#7a7a7a" >FL2-A</text>
<text x="101.5" y="186.85" font-family="&quot;Liberation Sans&quot;, sans-serif" font-size="3.7" font-weight="bold" text-anchor="middle" fill="#7a7a7a" transform="rotate(-90 101.5 186.85)">Count</text>
<clipPath id="c212_152"><rect x="212.8" y="152.2" width="75" height="68.8"/></clipPath>
<g clip-path="url(#c212_152)">
<g style="isolation:isolate">
<path d="M225.2,221 225.2,220.8 225.6,220.59 226,220.18 226.4,219.44 226.8,218.17 227.2,216.14 227.6,213.03 228,208.57 228.4,202.55 228.8,194.93 229.2,185.94 229.6,176.12 230,166.31 230.4,157.58 230.8,151 231.2,147.46 231.6,147.09 232,147.83 232.4,149.28 232.8,151.4 233.2,154.13 233.6,157.39 234,161.09 234.4,165.14 234.8,169.44 235.2,173.87 235.6,178.36 236,182.8 236.4,187.12 236.8,191.25 237.2,195.14 237.6,198.74 238,202.03 238.4,205 238.8,207.63 239.2,209.95 239.6,211.95 240,213.66 240.4,215.11 240.8,216.32 241.2,217.32 241.6,218.13 242,218.79 242.4,219.31 242.8,219.73 243.2,220.05 243.6,220.29 244,220.48 244.4,220.62 244.8,220.73 245.2,220.81 L245.2,221Z" fill="#8ce08c" stroke="#3c8c3c" stroke-width="0.45" stroke-opacity="0.8" style="mix-blend-mode:multiply"/>
<path d="M231.6,221 231.6,220.83 232,220.74 232.4,220.62 232.8,220.45 233.2,220.22 233.6,219.92 234,219.51 234.4,218.97 234.8,218.29 235.2,217.44 235.6,216.4 236,215.14 236.4,213.65 236.8,211.92 237.2,209.96 237.6,207.79 238,205.43 238.4,202.94 238.8,200.38 239.2,197.81 239.6,195.34 240,193.03 240.4,191 240.8,189.31 241.2,188.05 241.6,187.26 242,187 242.4,187.26 242.8,188.05 243.2,189.31 243.6,191 244,193.03 244.4,195.34 244.8,197.81 245.2,200.38 245.6,202.94 246,205.43 246.4,207.79 246.8,209.96 247.2,211.92 247.6,213.65 248,215.14 248.4,216.4 248.8,217.44 249.2,218.29 249.6,218.97 250,219.51 250.4,219.92 250.8,220.22 251.2,220.45 251.6,220.62 252,220.74 252.4,220.83 L252.4,221Z" fill="#ece29a" stroke="#b89848" stroke-width="0.45" stroke-opacity="0.8" style="mix-blend-mode:multiply"/>
<path d="M244.4,221 244.4,220.81 244.8,220.66 245.2,220.4 245.6,220.03 246,219.52 246.4,218.89 246.8,218.16 247.2,217.41 247.6,216.73 248,216.24 248.4,216.01 248.8,216.09 249.2,216.46 249.6,217.05 250,217.78 250.4,218.53 250.8,219.22 251.2,219.8 251.6,220.23 252,220.54 252.4,220.74 L252.4,221Z" fill="#8cf4ee" stroke="#3c6cd0" stroke-width="0.45" stroke-opacity="0.8" style="mix-blend-mode:multiply"/>
</g>
<path d="M224.4,220.96 224.8,220.91 225.2,220.8 225.6,220.59 226,220.18 226.4,219.44 226.8,218.17 227.2,216.14 227.6,213.03 228,208.57 228.4,202.54 228.8,194.92 229.2,185.93 229.6,176.1 230,166.28 230.4,157.53 230.8,150.92 231.2,147.34 231.6,146.92 232,147.57 232.4,148.9 232.8,150.85 233.2,153.35 233.6,156.3 234,159.6 234.4,163.12 234.8,166.73 235.2,170.32 235.6,173.76 236,176.94 236.4,179.77 236.8,182.17 237.2,184.1 237.6,185.53 238,186.46 238.4,186.94 238.8,187.01 239.2,186.76 239.6,186.28 240,185.7 240.4,185.11 240.8,184.63 241.2,184.37 241.6,184.4 242,184.79 242.4,185.57 242.8,186.76 243.2,188.33 243.6,190.24 244,192.42 244.4,194.77 244.8,197.2 245.2,199.59 245.6,201.84 246,203.86 246.4,205.61 246.8,207.07 247.2,208.3 247.6,209.36 248,210.36 248.4,211.4 248.8,212.53 249.2,213.75 249.6,215.02 250,216.28 250.4,217.44 250.8,218.45 251.2,219.25 251.6,219.86 252,220.29 252.4,220.57 252.8,220.75 253.2,220.86 253.6,220.92 254,220.96" fill="none" stroke="#d060d8" stroke-width="0.6"/>
<path d="M224.4,220.96 224.8,220.91 225.2,220.81 225.6,220.59 226,220.2 226.4,219.48 226.8,218.28 227.2,216.37 227.6,213.51 228,209.49 228.4,204.17 228.8,197.59 229.2,190.02 229.6,181.94 230,174.05 230.4,167.14 230.8,162 231.2,159.23 231.6,158.81 232,158.65 232.4,158.51 232.8,158.61 233.2,159.19 233.6,160.4 234,162.27 234.4,164.73 234.8,167.6 235.2,170.65 235.6,173.6 236,176.16 236.4,178.12 236.8,179.46 237.2,180.35 237.6,181.12 238,182.04 238.4,183.13 238.8,184.13 239.2,184.67 239.6,184.5 240,183.61 240.4,182.23 240.8,180.82 241.2,179.94 241.6,179.98 242,181.03 242.4,182.84 242.8,185.07 243.2,187.44 243.6,189.84 244,192.27 244.4,194.72 244.8,197.18 245.2,199.59 245.6,201.84 246,203.86 246.4,205.61 246.8,207.07 247.2,208.3 247.6,209.36 248,210.36 248.4,211.4 248.8,212.53 249.2,213.75 249.6,215.02 250,216.28 250.4,217.44 250.8,218.45 251.2,219.25 251.6,219.86 252,220.29 252.4,220.57 252.8,220.75 253.2,220.86 253.6,220.92 254,220.96" fill="none" stroke="#2e2e2e" stroke-width="0.75" stroke-dasharray="3,0.5"/>
</g>
<path d="M212.8,152.2 V221 H287.8 V152.2" fill="none" stroke="#2e2e2e" stroke-width="1.1"/>
<line x1="212.5" y1="152.2" x2="288.1" y2="152.2" stroke="#c2c2c2" stroke-width="1.6" />
<line x1="211.2" y1="221" x2="212.8" y2="221" stroke="#444" stroke-width="0.6" />
<text x="210.2" y="222.5" font-family="&quot;Liberation Sans&quot;, sans-serif" font-size="4.4" font-weight="bold" text-anchor="end" fill="#7a7a7a" >0</text>
<line x1="211.2" y1="205.36" x2="212.8" y2="205.36" stroke="#444" stroke-width="0.6" />
<text x="210.2" y="206.86" font-family="&quot;Liberation Sans&quot;, sans-serif" font-size="4.4" font-weight="bold" text-anchor="end" fill="#7a7a7a" >50</text>
<line x1="211.2" y1="189.73" x2="212.8" y2="189.73" stroke="#444" stroke-width="0.6" />
<text x="210.2" y="191.23" font-family="&quot;Liberation Sans&quot;, sans-serif" font-size="4.4" font-weight="bold" text-anchor="end" fill="#7a7a7a" >100</text>
<line x1="211.2" y1="174.09" x2="212.8" y2="174.09" stroke="#444" stroke-width="0.6" />
<text x="210.2" y="175.59" font-family="&quot;Liberation Sans&quot;, sans-serif" font-size="4.4" font-weight="bold" text-anchor="end" fill="#7a7a7a" >150</text>
<line x1="211.2" y1="158.45" x2="212.8" y2="158.45" stroke="#444" stroke-width="0.6" />
<text x="210.2" y="159.95" font-family="&quot;Liberation Sans&quot;, sans-serif" font-size="4.4" font-weight="bold" text-anchor="end" fill="#7a7a7a" >200</text>
<line x1="211.9" y1="152.2" x2="211.9" y2="221" stroke="#888" stroke-width="0.5" stroke-dasharray="0.5,2.5"/>
<line x1="213.1" y1="221" x2="213.1" y2="222.6" stroke="#444" stroke-width="0.6" />
<text x="213.1" y="229.1" font-family="&quot;Liberation Sans&quot;, sans-serif" font-size="4.4" font-weight="bold" text-anchor="middle" fill="#7a7a7a" >0</text>
<line x1="227.3" y1="221" x2="227.3" y2="222.6" stroke="#444" stroke-width="0.6" />
<text x="227.3" y="229.1" font-family="&quot;Liberation Sans&quot;, sans-serif" font-size="4.4" font-weight="bold" text-anchor="middle" fill="#7a7a7a" >200</text>
<line x1="241.5" y1="221" x2="241.5" y2="222.6" stroke="#444" stroke-width="0.6" />
<text x="241.5" y="229.1" font-family="&quot;Liberation Sans&quot;, sans-serif" font-size="4.4" font-weight="bold" text-anchor="middle" fill="#7a7a7a" >400</text>
<line x1="255.7" y1="221" x2="255.7" y2="222.6" stroke="#444" stroke-width="0.6" />
<text x="255.7" y="229.1" font-family="&quot;Liberation Sans&quot;, sans-serif" font-size="4.4" font-weight="bold" text-anchor="middle" fill="#7a7a7a" >600</text>
<line x1="269.9" y1="221" x2="269.9" y2="222.6" stroke="#444" stroke-width="0.6" />
<text x="269.9" y="229.1" font-family="&quot;Liberation Sans&quot;, sans-serif" font-size="4.4" font-weight="bold" text-anchor="middle" fill="#7a7a7a" >800</text>
<line x1="284.1" y1="221" x2="284.1" y2="222.6" stroke="#444" stroke-width="0.6" />
<text x="284.1" y="229.1" font-family="&quot;Liberation Sans&quot;, sans-serif" font-size="4.4" font-weight="bold" text-anchor="middle" fill="#7a7a7a" >1K</text>
<line x1="212.8" y1="221.9" x2="287.8" y2="221.9" stroke="#888" stroke-width="0.5" stroke-dasharray="0.5,2.5"/>
<text x="250.3" y="234.8" font-family="&quot;Liberation Sans&quot;, sans-serif" font-size="4.2" font-weight="bold" text-anchor="middle" fill="#7a7a7a" >FL2-A</text>
<text x="197.6" y="187.1" font-family="&quot;Liberation Sans&quot;, sans-serif" font-size="3.7" font-weight="bold" text-anchor="middle" fill="#7a7a7a" transform="rotate(-90 197.6 187.1)">Count</text>
<clipPath id="c307_151"><rect x="307.5" y="151.9" width="75" height="68.9"/></clipPath>
<g clip-path="url(#c307_151)">
<g style="isolation:isolate">
<path d="M321.9,220.8 321.9,220.61 322.3,220.31 322.7,219.65 323.1,218.31 323.5,215.81 323.9,211.6 324.3,205.16 324.7,196.29 325.1,185.41 325.5,173.71 325.9,163.04 326.3,155.52 326.7,152.8 327.1,153.54 327.5,155.72 327.9,159.2 328.3,163.75 328.7,169.12 329.1,174.99 329.5,181.08 329.9,187.11 330.3,192.84 330.7,198.11 331.1,202.78 331.5,206.8 331.9,210.16 332.3,212.89 332.7,215.04 333.1,216.7 333.5,217.95 333.9,218.86 334.3,219.51 334.7,219.96 335.1,220.26 335.5,220.46 335.9,220.6 L335.9,220.8Z" fill="#8ce08c" stroke="#3c8c3c" stroke-width="0.45" stroke-opacity="0.8" style="mix-blend-mode:multiply"/>
<path d="M326.3,220.8 326.3,220.63 326.7,220.55 327.1,220.44 327.5,220.3 327.9,220.11 328.3,219.86 328.7,219.54 329.1,219.14 329.5,218.64 329.9,218.04 330.3,217.32 330.7,216.49 331.1,215.54 331.5,214.48 331.9,213.32 332.3,212.09 332.7,210.81 333.1,209.53 333.5,208.27 333.9,207.09 334.3,206.04 334.7,205.15 335.1,204.46 335.5,204.01 335.9,203.81 336.3,203.87 336.7,204.2 337.1,204.78 337.5,205.57 337.9,206.55 338.3,207.67 338.7,208.89 339.1,210.17 339.5,211.45 339.9,212.71 340.3,213.91 340.7,215.02 341.1,216.03 341.5,216.92 341.9,217.69 342.3,218.35 342.7,218.9 343.1,219.35 343.5,219.71 343.9,219.99 344.3,220.21 344.7,220.38 345.1,220.5 345.5,220.59 L345.5,220.8Z" fill="#ece29a" stroke="#b89848" stroke-width="0.45" stroke-opacity="0.8" style="mix-blend-mode:multiply"/>
<path d="M336.3,220.8 336.3,220.63 336.7,220.47 337.1,220.19 337.5,219.7 337.9,218.93 338.3,217.78 338.7,216.14 339.1,213.97 339.5,211.27 339.9,208.14 340.3,204.8 340.7,201.54 341.1,198.74 341.5,196.75 341.9,195.84 342.3,196.14 342.7,197.62 343.1,200.06 343.5,203.13 343.9,206.48 344.3,209.75 344.7,212.68 345.1,215.13 345.5,217.02 345.9,218.41 346.3,219.36 346.7,219.97 347.1,220.35 347.5,220.57 L347.5,220.8Z" fill="#8cf4ee" stroke="#3c6cd0" stroke-width="0.45" stroke-opacity="0.8" style="mix-blend-mode:multiply"/>
</g>
<path d="M321.1,220.78 321.5,220.73 321.9,220.61 322.3,220.31 322.7,219.65 323.1,218.3 323.5,215.8 323.9,211.58 324.3,205.13 324.7,196.26 325.1,185.36 325.5,173.63 325.9,162.93 326.3,155.35 326.7,152.55 327.1,153.19 327.5,155.22 327.9,158.5 328.3,162.81 328.7,167.86 329.1,173.33 329.5,178.92 329.9,184.35 330.3,189.37 330.7,193.79 331.1,197.51 331.5,200.47 331.9,202.68 332.3,204.17 332.7,205.05 333.1,205.43 333.5,205.42 333.9,205.15 334.3,204.74 334.7,204.3 335.1,203.91 335.5,203.63 335.9,203.52 336.3,203.59 336.7,203.8 337.1,204.12 337.5,204.45 337.9,204.67 338.3,204.64 338.7,204.23 339.1,203.34 339.5,201.92 339.9,200.05 340.3,197.9 340.7,195.76 341.1,193.96 341.5,192.86 341.9,192.73 342.3,193.7 342.7,195.72 343.1,198.61 343.5,202.04 343.9,205.67 344.3,209.16 344.7,212.26 345.1,214.83 345.5,216.82 345.9,218.27 346.3,219.26 346.7,219.91 347.1,220.31 347.5,220.54 347.9,220.67 348.3,220.73 348.7,220.77" fill="none" stroke="#d060d8" stroke-width="0.6"/>
<path d="M321.1,220.78 321.5,220.73 321.9,220.61 322.3,220.31 322.7,219.66 323.1,218.34 323.5,215.89 323.9,211.78 324.3,205.54 324.7,197 325.1,186.59 325.5,175.45 325.9,165.33 326.3,158.19 326.7,155.55 327.1,156.02 327.5,157.62 327.9,160.32 328.3,164.04 328.7,168.6 329.1,173.74 329.5,179.12 329.9,184.43 330.3,189.4 330.7,193.8 331.1,197.48 331.5,200.34 331.9,202.27 332.3,203.2 332.7,203.23 333.1,202.78 333.5,202.42 333.9,202.5 334.3,202.92 334.7,203.32 335.1,203.47 335.5,203.37 335.9,203.08 336.3,202.61 336.7,201.98 337.1,201.47 337.5,201.45 337.9,202.03 338.3,202.85 338.7,203.33 339.1,203.09 339.5,202.13 339.9,200.67 340.3,199 340.7,197.43 341.1,196.23 341.5,195.62 341.9,195.72 342.3,196.6 342.7,198.25 343.1,200.58 343.5,203.42 343.9,206.53 344.3,209.64 344.7,212.5 345.1,214.93 345.5,216.86 345.9,218.28 346.3,219.27 346.7,219.91 347.1,220.31 347.5,220.54 347.9,220.67 348.3,220.73 348.7,220.77" fill="none" stroke="#2e2e2e" stroke-width="0.75" stroke-dasharray="3,0.5"/>
</g>
<path d="M307.5,151.9 V220.8 H382.5 V151.9" fill="none" stroke="#2e2e2e" stroke-width="1.1"/>
<line x1="307.2" y1="151.9" x2="382.8" y2="151.9" stroke="#c2c2c2" stroke-width="1.6" />
<line x1="305.9" y1="220.8" x2="307.5" y2="220.8" stroke="#444" stroke-width="0.6" />
<text x="304.9" y="222.3" font-family="&quot;Liberation Sans&quot;, sans-serif" font-size="4.4" font-weight="bold" text-anchor="end" fill="#7a7a7a" >0</text>
<line x1="305.9" y1="201.97" x2="307.5" y2="201.97" stroke="#444" stroke-width="0.6" />
<text x="304.9" y="203.47" font-family="&quot;Liberation Sans&quot;, sans-serif" font-size="4.4" font-weight="bold" text-anchor="end" fill="#7a7a7a" >100</text>
<line x1="305.9" y1="183.15" x2="307.5" y2="183.15" stroke="#444" stroke-width="0.6" />
<text x="304.9" y="184.65" font-family="&quot;Liberation Sans&quot;, sans-serif" font-size="4.4" font-weight="bold" text-anchor="end" fill="#7a7a7a" >200</text>
<line x1="305.9" y1="164.32" x2="307.5" y2="164.32" stroke="#444" stroke-width="0.6" />
<text x="304.9" y="165.82" font-family="&quot;Liberation Sans&quot;, sans-serif" font-size="4.4" font-weight="bold" text-anchor="end" fill="#7a7a7a" >300</text>
<line x1="306.6" y1="151.9" x2="306.6" y2="220.8" stroke="#888" stroke-width="0.5" stroke-dasharray="0.5,2.5"/>
<line x1="307.8" y1="220.8" x2="307.8" y2="222.4" stroke="#444" stroke-width="0.6" />
<text x="307.8" y="228.9" font-family="&quot;Liberation Sans&quot;, sans-serif" font-size="4.4" font-weight="bold" text-anchor="middle" fill="#7a7a7a" >0</text>
<line x1="322" y1="220.8" x2="322" y2="222.4" stroke="#444" stroke-width="0.6" />
<text x="322" y="228.9" font-family="&quot;Liberation Sans&quot;, sans-serif" font-size="4.4" font-weight="bold" text-anchor="middle" fill="#7a7a7a" >200</text>
<line x1="336.2" y1="220.8" x2="336.2" y2="222.4" stroke="#444" stroke-width="0.6" />
<text x="336.2" y="228.9" font-family="&quot;Liberation Sans&quot;, sans-serif" font-size="4.4" font-weight="bold" text-anchor="middle" fill="#7a7a7a" >400</text>
<line x1="350.4" y1="220.8" x2="350.4" y2="222.4" stroke="#444" stroke-width="0.6" />
<text x="350.4" y="228.9" font-family="&quot;Liberation Sans&quot;, sans-serif" font-size="4.4" font-weight="bold" text-anchor="middle" fill="#7a7a7a" >600</text>
<line x1="364.6" y1="220.8" x2="364.6" y2="222.4" stroke="#444" stroke-width="0.6" />
<text x="364.6" y="228.9" font-family="&quot;Liberation Sans&quot;, sans-serif" font-size="4.4" font-weight="bold" text-anchor="middle" fill="#7a7a7a" >800</text>
<line x1="378.8" y1="220.8" x2="378.8" y2="222.4" stroke="#444" stroke-width="0.6" />
<text x="378.8" y="228.9" font-family="&quot;Liberation Sans&quot;, sans-serif" font-size="4.4" font-weight="bold" text-anchor="middle" fill="#7a7a7a" >1K</text>
<line x1="307.5" y1="221.7" x2="382.5" y2="221.7" stroke="#888" stroke-width="0.5" stroke-dasharray="0.5,2.5"/>
<text x="345" y="234.6" font-family="&quot;Liberation Sans&quot;, sans-serif" font-size="4.2" font-weight="bold" text-anchor="middle" fill="#7a7a7a" >FL2-A</text>
<text x="292.3" y="186.85" font-family="&quot;Liberation Sans&quot;, sans-serif" font-size="3.7" font-weight="bold" text-anchor="middle" fill="#7a7a7a" transform="rotate(-90 292.3 186.85)">Count</text>
<clipPath id="c403_151"><rect x="403.3" y="151.9" width="75" height="68.9"/></clipPath>
<g clip-path="url(#c403_151)">
<g style="isolation:isolate">
<path d="M417.3,220.8 417.3,220.59 417.7,220.3 418.1,219.68 418.5,218.48 418.9,216.33 419.3,212.76 419.7,207.34 420.1,199.81 420.5,190.31 420.9,179.56 421.3,168.83 421.7,159.82 422.1,154.15 422.5,152.85 422.9,154.05 423.3,156.75 423.7,160.79 424.1,165.89 424.5,171.73 424.9,177.97 425.3,184.29 425.7,190.41 426.1,196.1 426.5,201.19 426.9,205.59 427.3,209.29 427.7,212.28 428.1,214.65 428.5,216.46 428.9,217.81 429.3,218.79 429.7,219.48 430.1,219.95 430.5,220.27 430.9,220.48 431.3,220.61 L431.3,220.8Z" fill="#8ce08c" stroke="#3c8c3c" stroke-width="0.45" stroke-opacity="0.8" style="mix-blend-mode:multiply"/>
<path d="M423.7,220.8 423.7,220.57 424.1,220.4 424.5,220.15 424.9,219.77 425.3,219.21 425.7,218.44 426.1,217.41 426.5,216.08 426.9,214.44 427.3,212.51 427.7,210.35 428.1,208.06 428.5,205.77 428.9,203.65 429.3,201.86 429.7,200.57 430.1,199.89 430.5,199.89 430.9,200.57 431.3,201.86 431.7,203.65 432.1,205.77 432.5,208.06 432.9,210.35 433.3,212.51 433.7,214.44 434.1,216.08 434.5,217.41 434.9,218.44 435.3,219.21 435.7,219.77 436.1,220.15 436.5,220.4 436.9,220.57 L436.9,220.8Z" fill="#ece29a" stroke="#b89848" stroke-width="0.45" stroke-opacity="0.8" style="mix-blend-mode:multiply"/>
<path d="M429.7,220.8 429.7,220.57 430.1,220.38 430.5,220.08 430.9,219.59 431.3,218.84 431.7,217.74 432.1,216.19 432.5,214.12 432.9,211.45 433.3,208.19 433.7,204.39 434.1,200.21 434.5,195.9 434.9,191.74 435.3,188.11 435.7,185.33 436.1,183.68 436.5,183.34 436.9,184.35 437.3,186.59 437.7,189.84 438.1,193.78 438.5,198.06 438.9,202.34 439.3,206.35 439.7,209.89 440.1,212.86 440.5,215.22 440.9,217.02 441.3,218.34 441.7,219.25 442.1,219.86 442.5,220.25 442.9,220.49 443.3,220.63 L443.3,220.8Z" fill="#8cf4ee" stroke="#3c6cd0" stroke-width="0.45" stroke-opacity="0.8" style="mix-blend-mode:multiply"/>
</g>
<path d="M416.5,220.77 416.9,220.72 417.3,220.59 417.7,220.3 418.1,219.68 418.5,218.48 418.9,216.33 419.3,212.76 419.7,207.34 420.1,199.81 420.5,190.31 420.9,179.55 421.3,168.83 421.7,159.81 422.1,154.13 422.5,152.81 422.9,153.97 423.3,156.62 423.7,160.56 424.1,165.49 424.5,171.08 424.9,176.94 425.3,182.71 425.7,188.05 426.1,192.7 426.5,196.46 426.9,199.23 427.3,200.99 427.7,201.83 428.1,201.9 428.5,201.4 428.9,200.6 429.3,199.73 429.7,199.02 430.1,198.62 430.5,198.63 430.9,199.03 431.3,199.7 431.7,200.47 432.1,201.1 432.5,201.34 432.9,200.98 433.3,199.89 433.7,198.02 434.1,195.49 434.5,192.5 434.9,189.38 435.3,186.52 435.7,184.29 436.1,183.03 436.5,182.95 436.9,184.11 437.3,186.46 437.7,189.77 438.1,193.74 438.5,198.03 438.9,202.33 439.3,206.34 439.7,209.89 440.1,212.86 440.5,215.22 440.9,217.02 441.3,218.34 441.7,219.25 442.1,219.86 442.5,220.25 442.9,220.49 443.3,220.63 443.7,220.71 444.1,220.75" fill="none" stroke="#d060d8" stroke-width="0.6"/>
<path d="M416.5,220.77 416.9,220.72 417.3,220.59 417.7,220.3 418.1,219.7 418.5,218.53 418.9,216.45 419.3,213.06 419.7,208.01 420.1,201.15 420.5,192.71 420.9,183.4 421.3,174.35 421.7,166.89 422.1,162.27 422.5,161.18 422.9,161.67 423.3,162.96 423.7,165.23 424.1,168.57 424.5,172.89 424.9,177.9 425.3,183.16 425.7,188.24 426.1,192.77 426.5,196.49 426.9,199.24 427.3,201 427.7,201.83 428.1,201.9 428.5,201.4 428.9,200.6 429.3,199.73 429.7,199.02 430.1,198.62 430.5,198.63 430.9,199.03 431.3,199.7 431.7,200.47 432.1,201.11 432.5,201.37 432.9,201.06 433.3,200.07 433.7,198.42 434.1,196.28 434.5,193.93 434.9,191.67 435.3,189.8 435.7,188.51 436.1,187.88 436.5,187.93 436.9,188.7 437.3,190.23 437.7,192.55 438.1,195.57 438.5,199.12 438.9,202.9 439.3,206.61 439.7,210 440.1,212.9 440.5,215.24 440.9,217.03 441.3,218.34 441.7,219.25 442.1,219.86 442.5,220.25 442.9,220.49 443.3,220.63 443.7,220.71 444.1,220.75" fill="none" stroke="#2e2e2e" stroke-width="0.75" stroke-dasharray="3,0.5"/>
</g>
<path d="M403.3,151.9 V220.8 H478.3 V151.9" fill="none" stroke="#2e2e2e" stroke-width="1.1"/>
<line x1="403" y1="151.9" x2="478.6" y2="151.9" stroke="#c2c2c2" stroke-width="1.6" />
<line x1="401.7" y1="220.8" x2="403.3" y2="220.8" stroke="#444" stroke-width="0.6" />
<text x="400.7" y="222.3" font-family="&quot;Liberation Sans&quot;, sans-serif" font-size="4.4" font-weight="bold" text-anchor="end" fill="#7a7a7a" >0</text>
<line x1="401.7" y1="206.62" x2="403.3" y2="206.62" stroke="#444" stroke-width="0.6" />
<text x="400.7" y="208.12" font-family="&quot;Liberation Sans&quot;, sans-serif" font-size="4.4" font-weight="bold" text-anchor="end" fill="#7a7a7a" >50</text>
<line x1="401.7" y1="192.45" x2="403.3" y2="192.45" stroke="#444" stroke-width="0.6" />
<text x="400.7" y="193.95" font-family="&quot;Liberation Sans&quot;, sans-serif" font-size="4.4" font-weight="bold" text-anchor="end" fill="#7a7a7a" >100</text>
<line x1="401.7" y1="178.27" x2="403.3" y2="178.27" stroke="#444" stroke-width="0.6" />
<text x="400.7" y="179.77" font-family="&quot;Liberation Sans&quot;, sans-serif" font-size="4.4" font-weight="bold" text-anchor="end" fill="#7a7a7a" >150</text>
<line x1="401.7" y1="164.09" x2="403.3" y2="164.09" stroke="#444" stroke-width="0.6" />
<text x="400.7" y="165.59" font-family="&quot;Liberation Sans&quot;, sans-serif" font-size="4.4" font-weight="bold" text-anchor="end" fill="#7a7a7a" >200</text>
<line x1="402.4" y1="151.9" x2="402.4" y2="220.8" stroke="#888" stroke-width="0.5" stroke-dasharray="0.5,2.5"/>
<line x1="403.6" y1="220.8" x2="403.6" y2="222.4" stroke="#444" stroke-width="0.6" />
<text x="403.6" y="228.9" font-family="&quot;Liberation Sans&quot;, sans-serif" font-size="4.4" font-weight="bold" text-anchor="middle" fill="#7a7a7a" >0</text>
<line x1="417.8" y1="220.8" x2="417.8" y2="222.4" stroke="#444" stroke-width="0.6" />
<text x="417.8" y="228.9" font-family="&quot;Liberation Sans&quot;, sans-serif" font-size="4.4" font-weight="bold" text-anchor="middle" fill="#7a7a7a" >200</text>
<line x1="432" y1="220.8" x2="432" y2="222.4" stroke="#444" stroke-width="0.6" />
<text x="432" y="228.9" font-family="&quot;Liberation Sans&quot;, sans-serif" font-size="4.4" font-weight="bold" text-anchor="middle" fill="#7a7a7a" >400</text>
<line x1="446.2" y1="220.8" x2="446.2" y2="222.4" stroke="#444" stroke-width="0.6" />
<text x="446.2" y="228.9" font-family="&quot;Liberation Sans&quot;, sans-serif" font-size="4.4" font-weight="bold" text-anchor="middle" fill="#7a7a7a" >600</text>
<line x1="460.4" y1="220.8" x2="460.4" y2="222.4" stroke="#444" stroke-width="0.6" />
<text x="460.4" y="228.9" font-family="&quot;Liberation Sans&quot;, sans-serif" font-size="4.4" font-weight="bold" text-anchor="middle" fill="#7a7a7a" >800</text>
<line x1="474.6" y1="220.8" x2="474.6" y2="222.4" stroke="#444" stroke-width="0.6" />
<text x="474.6" y="228.9" font-family="&quot;Liberation Sans&quot;, sans-serif" font-size="4.4" font-weight="bold" text-anchor="middle" fill="#7a7a7a" >1K</text>
<line x1="403.3" y1="221.7" x2="478.3" y2="221.7" stroke="#888" stroke-width="0.5" stroke-dasharray="0.5,2.5"/>
<text x="440.8" y="234.6" font-family="&quot;Liberation Sans&quot;, sans-serif" font-size="4.2" font-weight="bold" text-anchor="middle" fill="#7a7a7a" >FL2-A</text>
<text x="388.1" y="186.85" font-family="&quot;Liberation Sans&quot;, sans-serif" font-size="3.7" font-weight="bold" text-anchor="middle" fill="#7a7a7a" transform="rotate(-90 388.1 186.85)">Count</text>
<clipPath id="c499_151"><rect x="499.4" y="151.6" width="74.7" height="68.7"/></clipPath>
<g clip-path="url(#c499_151)">
<g style="isolation:isolate">
<path d="M513,220.3 513,220.05 513.4,219.61 513.8,218.61 514.2,216.53 514.6,212.63 515,206.11 515.4,196.41 515.8,183.73 516.2,169.36 516.6,155.76 517,145.91 517.4,142.3 517.8,143.22 518.2,145.91 518.6,150.18 519,155.76 519.4,162.28 519.8,169.36 520.2,176.62 520.6,183.73 521,190.39 521.4,196.41 521.8,201.67 522.2,206.11 522.6,209.74 523,212.63 523.4,214.86 523.8,216.53 524.2,217.75 524.6,218.61 525,219.21 525.4,219.61 525.8,219.88 526.2,220.05 L526.2,220.3Z" fill="#8ce08c" stroke="#3c8c3c" stroke-width="0.45" stroke-opacity="0.8" style="mix-blend-mode:multiply"/>
<path d="M517,220.3 517,220.14 517.4,220.05 517.8,219.94 518.2,219.78 518.6,219.56 519,219.26 519.4,218.88 519.8,218.39 520.2,217.77 520.6,217.01 521,216.1 521.4,215.03 521.8,213.81 522.2,212.44 522.6,210.95 523,209.38 523.4,207.77 523.8,206.17 524.2,204.65 524.6,203.27 525,202.09 525.4,201.18 525.8,200.58 526.2,200.31 526.6,200.4 527,200.84 527.4,201.6 527.8,202.65 528.2,203.93 528.6,205.39 529,206.96 529.4,208.57 529.8,210.17 530.2,211.71 530.6,213.14 531,214.44 531.4,215.59 531.8,216.57 532.2,217.41 532.6,218.09 533,218.65 533.4,219.08 533.8,219.42 534.2,219.68 534.6,219.86 535,220 535.4,220.1 L535.4,220.3Z" fill="#ece29a" stroke="#b89848" stroke-width="0.45" stroke-opacity="0.8" style="mix-blend-mode:multiply"/>
<path d="M527.4,220.3 527.4,220.1 527.8,219.88 528.2,219.47 528.6,218.75 529,217.58 529.4,215.82 529.8,213.36 530.2,210.2 530.6,206.49 531,202.57 531.4,198.91 531.8,196.07 532.2,194.5 532.6,194.5 533,196.07 533.4,198.91 533.8,202.57 534.2,206.49 534.6,210.2 535,213.36 535.4,215.82 535.8,217.58 536.2,218.75 536.6,219.47 537,219.88 537.4,220.1 L537.4,220.3Z" fill="#8cf4ee" stroke="#3c6cd0" stroke-width="0.45" stroke-opacity="0.8" style="mix-blend-mode:multiply"/>
</g>
<path d="M512.2,220.27 512.6,220.21 513,220.05 513.4,219.61 513.8,218.61 514.2,216.52 514.6,212.62 515,206.09 515.4,196.39 515.8,183.68 516.2,169.29 516.6,155.65 517,145.74 517.4,142.05 517.8,142.86 518.2,145.38 518.6,149.44 519,154.72 519.4,160.86 519.8,167.45 520.2,174.09 520.6,180.44 521,186.19 521.4,191.15 521.8,195.18 522.2,198.25 522.6,200.4 523,201.71 523.4,202.32 523.8,202.4 524.2,202.09 524.6,201.58 525,201 525.4,200.49 525.8,200.15 526.2,200.04 526.6,200.21 527,200.66 527.4,201.36 527.8,202.21 528.2,203.09 528.6,203.84 529,204.24 529.4,204.09 529.8,203.23 530.2,201.61 530.6,199.33 531,196.71 531.4,194.2 531.8,192.34 532.2,191.61 532.6,192.3 533,194.41 533.4,197.7 533.8,201.69 534.2,205.87 534.6,209.76 535,213.06 535.4,215.62 535.8,217.45 536.2,218.66 536.6,219.42 537,219.85 537.4,220.08 537.8,220.2 538.2,220.26 538.6,220.28" fill="none" stroke="#d060d8" stroke-width="0.6"/>
<path d="M512.2,220.27 512.6,220.21 513,220.05 513.4,219.61 513.8,218.61 514.2,216.52 514.6,212.62 515,206.09 515.4,196.39 515.8,183.68 516.2,169.29 516.6,155.65 517,145.74 517.4,142.05 517.8,142.86 518.2,145.38 518.6,149.44 519,154.72 519.4,160.86 519.8,167.45 520.2,174.09 520.6,180.44 521,186.19 521.4,191.15 521.8,195.18 522.2,198.25 522.6,200.39 523,201.69 523.4,202.28 523.8,202.29 524.2,201.86 524.6,201.1 525,200.08 525.4,198.87 525.8,197.48 526.2,195.95 526.6,194.37 527,192.9 527.4,191.75 527.8,191.13 528.2,191.2 528.6,191.95 529,193.17 529.4,194.52 529.8,195.6 530.2,196.12 530.6,196.03 531,195.54 531.4,195 531.8,194.76 532.2,195.05 532.6,195.98 533,197.65 533.4,200.08 533.8,203.17 534.2,206.65 534.6,210.12 535,213.19 535.4,215.66 535.8,217.46 536.2,218.67 536.6,219.42 537,219.85 537.4,220.08 537.8,220.2 538.2,220.26 538.6,220.28" fill="none" stroke="#2e2e2e" stroke-width="0.75" stroke-dasharray="3,0.5"/>
</g>
<path d="M499.4,151.6 V220.3 H574.1 V151.6" fill="none" stroke="#2e2e2e" stroke-width="1.1"/>
<line x1="499.1" y1="151.6" x2="574.4" y2="151.6" stroke="#c2c2c2" stroke-width="1.6" />
<line x1="497.8" y1="220.3" x2="499.4" y2="220.3" stroke="#444" stroke-width="0.6" />
<text x="496.8" y="221.8" font-family="&quot;Liberation Sans&quot;, sans-serif" font-size="4.4" font-weight="bold" text-anchor="end" fill="#7a7a7a" >0</text>
<line x1="497.8" y1="207.76" x2="499.4" y2="207.76" stroke="#444" stroke-width="0.6" />
<text x="496.8" y="209.26" font-family="&quot;Liberation Sans&quot;, sans-serif" font-size="4.4" font-weight="bold" text-anchor="end" fill="#7a7a7a" >50</text>
<line x1="497.8" y1="195.23" x2="499.4" y2="195.23" stroke="#444" stroke-width="0.6" />
<text x="496.8" y="196.73" font-family="&quot;Liberation Sans&quot;, sans-serif" font-size="4.4" font-weight="bold" text-anchor="end" fill="#7a7a7a" >100</text>
<line x1="497.8" y1="182.69" x2="499.4" y2="182.69" stroke="#444" stroke-width="0.6" />
<text x="496.8" y="184.19" font-family="&quot;Liberation Sans&quot;, sans-serif" font-size="4.4" font-weight="bold" text-anchor="end" fill="#7a7a7a" >150</text>
<line x1="497.8" y1="170.15" x2="499.4" y2="170.15" stroke="#444" stroke-width="0.6" />
<text x="496.8" y="171.65" font-family="&quot;Liberation Sans&quot;, sans-serif" font-size="4.4" font-weight="bold" text-anchor="end" fill="#7a7a7a" >200</text>
<line x1="497.8" y1="157.62" x2="499.4" y2="157.62" stroke="#444" stroke-width="0.6" />
<text x="496.8" y="159.12" font-family="&quot;Liberation Sans&quot;, sans-serif" font-size="4.4" font-weight="bold" text-anchor="end" fill="#7a7a7a" >250</text>
<line x1="498.5" y1="151.6" x2="498.5" y2="220.3" stroke="#888" stroke-width="0.5" stroke-dasharray="0.5,2.5"/>
<line x1="499.7" y1="220.3" x2="499.7" y2="221.9" stroke="#444" stroke-width="0.6" />
<text x="499.7" y="228.4" font-family="&quot;Liberation Sans&quot;, sans-serif" font-size="4.4" font-weight="bold" text-anchor="middle" fill="#7a7a7a" >0</text>
<line x1="513.84" y1="220.3" x2="513.84" y2="221.9" stroke="#444" stroke-width="0.6" />
<text x="513.84" y="228.4" font-family="&quot;Liberation Sans&quot;, sans-serif" font-size="4.4" font-weight="bold" text-anchor="middle" fill="#7a7a7a" >200</text>
<line x1="527.98" y1="220.3" x2="527.98" y2="221.9" stroke="#444" stroke-width="0.6" />
<text x="527.98" y="228.4" font-family="&quot;Liberation Sans&quot;, sans-serif" font-size="4.4" font-weight="bold" text-anchor="middle" fill="#7a7a7a" >400</text>
<line x1="542.12" y1="220.3" x2="542.12" y2="221.9" stroke="#444" stroke-width="0.6" />
<text x="542.12" y="228.4" font-family="&quot;Liberation Sans&quot;, sans-serif" font-size="4.4" font-weight="bold" text-anchor="middle" fill="#7a7a7a" >600</text>
<line x1="556.26" y1="220.3" x2="556.26" y2="221.9" stroke="#444" stroke-width="0.6" />
<text x="556.26" y="228.4" font-family="&quot;Liberation Sans&quot;, sans-serif" font-size="4.4" font-weight="bold" text-anchor="middle" fill="#7a7a7a" >800</text>
<line x1="570.4" y1="220.3" x2="570.4" y2="221.9" stroke="#444" stroke-width="0.6" />
<text x="570.4" y="228.4" font-family="&quot;Liberation Sans&quot;, sans-serif" font-size="4.4" font-weight="bold" text-anchor="middle" fill="#7a7a7a" >1K</text>
<line x1="499.4" y1="221.2" x2="574.1" y2="221.2" stroke="#888" stroke-width="0.5" stroke-dasharray="0.5,2.5"/>
<text x="536.75" y="234.1" font-family="&quot;Liberation Sans&quot;, sans-serif" font-size="4.2" font-weight="bold" text-anchor="middle" fill="#7a7a7a" >FL2-A</text>
<text x="484.2" y="186.45" font-family="&quot;Liberation Sans&quot;, sans-serif" font-size="3.7" font-weight="bold" text-anchor="middle" fill="#7a7a7a" transform="rotate(-90 484.2 186.45)">Count</text>
<clipPath id="c595_150"><rect x="595.5" y="150.9" width="75.1" height="68.5"/></clipPath>
<g clip-path="url(#c595_150)">
<g style="isolation:isolate">
<path d="M609.9,219.4 609.9,219.08 610.3,218.68 610.7,217.91 611.1,216.47 611.5,214.02 611.9,210.1 612.3,204.31 612.7,196.39 613.1,186.44 613.5,175.04 613.9,163.33 614.3,152.81 614.7,145.12 615.1,141.55 615.5,141.79 615.9,143.49 616.3,146.47 616.7,150.57 617.1,155.57 617.5,161.26 617.9,167.38 618.3,173.67 618.7,179.91 619.1,185.89 619.5,191.48 619.9,196.54 620.3,201.01 620.7,204.87 621.1,208.12 621.5,210.8 621.9,212.96 622.3,214.66 622.7,215.97 623.1,216.97 623.5,217.7 623.9,218.24 624.3,218.62 624.7,218.88 625.1,219.06 625.5,219.19 L625.5,219.4Z" fill="#8ce08c" stroke="#3c8c3c" stroke-width="0.45" stroke-opacity="0.8" style="mix-blend-mode:multiply"/>
<path d="M616.7,219.4 616.7,219.21 617.1,219.12 617.5,219 617.9,218.83 618.3,218.6 618.7,218.31 619.1,217.92 619.5,217.44 619.9,216.83 620.3,216.09 620.7,215.2 621.1,214.15 621.5,212.94 621.9,211.58 622.3,210.08 622.7,208.46 623.1,206.75 623.5,205.01 623.9,203.29 624.3,201.64 624.7,200.12 625.1,198.79 625.5,197.72 625.9,196.94 626.3,196.5 626.7,196.41 627.1,196.68 627.5,197.29 627.9,198.22 628.3,199.43 628.7,200.86 629.1,202.45 629.5,204.15 629.9,205.89 630.3,207.61 630.7,209.28 631.1,210.84 631.5,212.28 631.9,213.56 632.3,214.69 632.7,215.66 633.1,216.48 633.5,217.15 633.9,217.7 634.3,218.13 634.7,218.47 635.1,218.72 635.5,218.92 635.9,219.06 636.3,219.17 636.7,219.24 L636.7,219.4Z" fill="#ece29a" stroke="#b89848" stroke-width="0.45" stroke-opacity="0.8" style="mix-blend-mode:multiply"/>
<path d="M628.7,219.4 628.7,219.22 629.1,219.02 629.5,218.64 629.9,217.98 630.3,216.93 630.7,215.41 631.1,213.4 631.5,210.98 631.9,208.41 632.3,206.04 632.7,204.26 633.1,203.44 633.5,203.72 633.9,205.05 634.3,207.17 634.7,209.7 635.1,212.23 635.5,214.46 635.9,216.23 636.3,217.51 636.7,218.35 637.1,218.86 637.5,219.14 L637.5,219.4Z" fill="#8cf4ee" stroke="#3c6cd0" stroke-width="0.45" stroke-opacity="0.8" style="mix-blend-mode:multiply"/>
</g>
<path d="M608.7,219.38 609.1,219.35 609.5,219.26 609.9,219.08 610.3,218.68 610.7,217.91 611.1,216.47 611.5,214.02 611.9,210.1 612.3,204.31 612.7,196.39 613.1,186.43 613.5,175.04 613.9,163.32 614.3,152.8 614.7,145.09 615.1,141.52 615.5,141.73 615.9,143.41 616.3,146.34 616.7,150.37 617.1,155.29 617.5,160.86 617.9,166.8 618.3,172.87 618.7,178.81 619.1,184.42 619.5,189.51 619.9,193.97 620.3,197.7 620.7,200.67 621.1,202.87 621.5,204.34 621.9,205.14 622.3,205.33 622.7,205.03 623.1,204.32 623.5,203.32 623.9,202.12 624.3,200.85 624.7,199.6 625.1,198.46 625.5,197.5 625.9,196.81 626.3,196.42 626.7,196.36 627.1,196.65 627.5,197.26 627.9,198.18 628.3,199.34 628.7,200.67 629.1,202.07 629.5,203.38 629.9,204.46 630.3,205.14 630.7,205.29 631.1,204.84 631.5,203.86 631.9,202.57 632.3,201.33 632.7,200.53 633.1,200.51 633.5,201.47 633.9,203.35 634.3,205.9 634.7,208.76 635.1,211.55 635.5,213.98 635.9,215.9 636.3,217.28 636.7,218.19 637.1,218.75 637.5,219.07 637.9,219.24 638.3,219.32 638.7,219.36" fill="none" stroke="#d060d8" stroke-width="0.6"/>
<path d="M608.7,219.38 609.1,219.35 609.5,219.26 609.9,219.08 610.3,218.68 610.7,217.91 611.1,216.47 611.5,214.02 611.9,210.1 612.3,204.31 612.7,196.39 613.1,186.43 613.5,175.04 613.9,163.32 614.3,152.8 614.7,145.09 615.1,141.52 615.5,141.73 615.9,143.41 616.3,146.34 616.7,150.37 617.1,155.29 617.5,160.86 617.9,166.8 618.3,172.87 618.7,178.81 619.1,184.42 619.5,189.51 619.9,193.97 620.3,197.7 620.7,200.67 621.1,202.87 621.5,204.34 621.9,205.14 622.3,205.33 622.7,205.03 623.1,204.32 623.5,203.31 623.9,202.12 624.3,200.83 624.7,199.54 625.1,198.3 625.5,197.13 625.9,196.01 626.3,194.9 626.7,193.79 627.1,192.75 627.5,191.98 627.9,191.76 628.3,192.37 628.7,193.89 629.1,196.16 629.5,198.78 629.9,201.26 630.3,203.14 630.7,204.17 631.1,204.28 631.5,203.61 631.9,202.47 632.3,201.29 632.7,200.52 633.1,200.51 633.5,201.47 633.9,203.35 634.3,205.9 634.7,208.76 635.1,211.55 635.5,213.98 635.9,215.9 636.3,217.28 636.7,218.19 637.1,218.75 637.5,219.07 637.9,219.24 638.3,219.32 638.7,219.36" fill="none" stroke="#2e2e2e" stroke-width="0.75" stroke-dasharray="3,0.5"/>
</g>
<path d="M595.5,150.9 V219.4 H670.6 V150.9" fill="none" stroke="#2e2e2e" stroke-width="1.1"/>
<line x1="595.2" y1="150.9" x2="670.9" y2="150.9" stroke="#c2c2c2" stroke-width="1.6" />
<line x1="593.9" y1="219.4" x2="595.5" y2="219.4" stroke="#444" stroke-width="0.6" />
<text x="592.9" y="220.9" font-family="&quot;Liberation Sans&quot;, sans-serif" font-size="4.4" font-weight="bold" text-anchor="end" fill="#7a7a7a" >0</text>
<line x1="593.9" y1="207.21" x2="595.5" y2="207.21" stroke="#444" stroke-width="0.6" />
<text x="592.9" y="208.71" font-family="&quot;Liberation Sans&quot;, sans-serif" font-size="4.4" font-weight="bold" text-anchor="end" fill="#7a7a7a" >50</text>
<line x1="593.9" y1="195.02" x2="595.5" y2="195.02" stroke="#444" stroke-width="0.6" />
<text x="592.9" y="196.52" font-family="&quot;Liberation Sans&quot;, sans-serif" font-size="4.4" font-weight="bold" text-anchor="end" fill="#7a7a7a" >100</text>
<line x1="593.9" y1="182.83" x2="595.5" y2="182.83" stroke="#444" stroke-width="0.6" />
<text x="592.9" y="184.33" font-family="&quot;Liberation Sans&quot;, sans-serif" font-size="4.4" font-weight="bold" text-anchor="end" fill="#7a7a7a" >150</text>
<line x1="593.9" y1="170.65" x2="595.5" y2="170.65" stroke="#444" stroke-width="0.6" />
<text x="592.9" y="172.15" font-family="&quot;Liberation Sans&quot;, sans-serif" font-size="4.4" font-weight="bold" text-anchor="end" fill="#7a7a7a" >200</text>
<line x1="593.9" y1="158.46" x2="595.5" y2="158.46" stroke="#444" stroke-width="0.6" />
<text x="592.9" y="159.96" font-family="&quot;Liberation Sans&quot;, sans-serif" font-size="4.4" font-weight="bold" text-anchor="end" fill="#7a7a7a" >250</text>
<line x1="594.6" y1="150.9" x2="594.6" y2="219.4" stroke="#888" stroke-width="0.5" stroke-dasharray="0.5,2.5"/>
<line x1="595.8" y1="219.4" x2="595.8" y2="221" stroke="#444" stroke-width="0.6" />
<text x="595.8" y="227.5" font-family="&quot;Liberation Sans&quot;, sans-serif" font-size="4.4" font-weight="bold" text-anchor="middle" fill="#7a7a7a" >0</text>
<line x1="610.02" y1="219.4" x2="610.02" y2="221" stroke="#444" stroke-width="0.6" />
<text x="610.02" y="227.5" font-family="&quot;Liberation Sans&quot;, sans-serif" font-size="4.4" font-weight="bold" text-anchor="middle" fill="#7a7a7a" >200</text>
<line x1="624.24" y1="219.4" x2="624.24" y2="221" stroke="#444" stroke-width="0.6" />
<text x="624.24" y="227.5" font-family="&quot;Liberation Sans&quot;, sans-serif" font-size="4.4" font-weight="bold" text-anchor="middle" fill="#7a7a7a" >400</text>
<line x1="638.46" y1="219.4" x2="638.46" y2="221" stroke="#444" stroke-width="0.6" />
<text x="638.46" y="227.5" font-family="&quot;Liberation Sans&quot;, sans-serif" font-size="4.4" font-weight="bold" text-anchor="middle" fill="#7a7a7a" >600</text>
<line x1="652.68" y1="219.4" x2="652.68" y2="221" stroke="#444" stroke-width="0.6" />
<text x="652.68" y="227.5" font-family="&quot;Liberation Sans&quot;, sans-serif" font-size="4.4" font-weight="bold" text-anchor="middle" fill="#7a7a7a" >800</text>
<line x1="666.9" y1="219.4" x2="666.9" y2="221" stroke="#444" stroke-width="0.6" />
<text x="666.9" y="227.5" font-family="&quot;Liberation Sans&quot;, sans-serif" font-size="4.4" font-weight="bold" text-anchor="middle" fill="#7a7a7a" >1K</text>
<line x1="595.5" y1="220.3" x2="670.6" y2="220.3" stroke="#888" stroke-width="0.5" stroke-dasharray="0.5,2.5"/>
<text x="633.05" y="233.2" font-family="&quot;Liberation Sans&quot;, sans-serif" font-size="4.2" font-weight="bold" text-anchor="middle" fill="#7a7a7a" >FL2-A</text>
<text x="580.3" y="185.65" font-family="&quot;Liberation Sans&quot;, sans-serif" font-size="3.7" font-weight="bold" text-anchor="middle" fill="#7a7a7a" transform="rotate(-90 580.3 185.65)">Count</text>
<text x="7.7" y="248.9" font-family="&quot;Liberation Serif&quot;, serif" font-size="14.6" text-anchor="start" fill="#000" stroke="#000" stroke-width="0.1" >B</text>
<filter id="bl1" x="-50%" y="-100%" width="200%" height="300%"><feGaussianBlur stdDeviation="1.1"/></filter>
<filter id="bl2" x="-50%" y="-100%" width="200%" height="300%"><feGaussianBlur stdDeviation="0.7"/></filter>
<text x="130" y="267.3" font-family="&quot;Liberation Serif&quot;, serif" font-size="13" text-anchor="start" fill="#000" stroke="#000" stroke-width="0.14" >HepG2</text>
<text x="110.2" y="293.3" font-family="&quot;Liberation Serif&quot;, serif" font-size="10" font-weight="bold" text-anchor="middle" fill="#000" >0</text>
<text x="131.1" y="293.3" font-family="&quot;Liberation Serif&quot;, serif" font-size="10" font-weight="bold" text-anchor="middle" fill="#000" >3</text>
<text x="153" y="293.3" font-family="&quot;Liberation Serif&quot;, serif" font-size="10" font-weight="bold" text-anchor="middle" fill="#000" >6</text>
<text x="173.3" y="293.3" font-family="&quot;Liberation Serif&quot;, serif" font-size="10" font-weight="bold" text-anchor="middle" fill="#000" >9</text>
<text x="197.5" y="293.3" font-family="&quot;Liberation Serif&quot;, serif" font-size="10" font-weight="bold" text-anchor="middle" fill="#000" >12</text>
<text x="216.1" y="293.3" font-family="&quot;Liberation Serif&quot;, serif" font-size="10" font-weight="bold" text-anchor="middle" fill="#000" >15</text>
<text x="94.3" y="311.3" font-family="&quot;Liberation Serif&quot;, serif" font-size="10" font-weight="bold" text-anchor="end" fill="#000" >p-Histone H3(T3)</text>
<text x="94.3" y="332.5" font-family="&quot;Liberation Serif&quot;, serif" font-size="10" font-weight="bold" text-anchor="end" fill="#000" >GAPDH</text>
<rect x="99" y="299" width="128" height="20.3" fill="#a2a2a2"/>
<rect x="99" y="321.2" width="128" height="20.5" fill="#a6a6a6"/>
<g filter="url(#bl2)">
<ellipse cx="175.4" cy="307.4" rx="8.3" ry="2.1" fill="#0c0c0c"/>
<ellipse cx="195" cy="308.4" rx="3.5" ry="1" fill="#7a7a7a"/>
</g>
<g filter="url(#bl1)">
<ellipse cx="113.2" cy="328.8" rx="10" ry="3.5" fill="#1e1e1e"/>
<ellipse cx="133.8" cy="329.2" rx="9.3" ry="3.4" fill="#242424"/>
<ellipse cx="154.2" cy="330" rx="9.7" ry="3.7" fill="#121212"/>
<ellipse cx="174.3" cy="330" rx="9.3" ry="3.5" fill="#161616"/>
<ellipse cx="195.3" cy="331.3" rx="10.5" ry="3.5" fill="#121212"/>
<ellipse cx="216" cy="332" rx="9.6" ry="3.2" fill="#363636"/>
<ellipse cx="137" cy="335.5" rx="3" ry="1.3" fill="#666"/>
<ellipse cx="156" cy="335" rx="4" ry="1.2" fill="#777"/>
</g>
<text x="123.8" y="383.3" font-family="&quot;Liberation Serif&quot;, serif" font-size="13" text-anchor="start" fill="#000" stroke="#000" stroke-width="0.14" >UMUC-3</text>
<text x="110.2" y="403.3" font-family="&quot;Liberation Serif&quot;, serif" font-size="10" font-weight="bold" text-anchor="middle" fill="#000" >0</text>
<text x="131.1" y="403.3" font-family="&quot;Liberation Serif&quot;, serif" font-size="10" font-weight="bold" text-anchor="middle" fill="#000" >3</text>
<text x="153" y="403.3" font-family="&quot;Liberation Serif&quot;, serif" font-size="10" font-weight="bold" text-anchor="middle" fill="#000" >6</text>
<text x="173.3" y="403.3" font-family="&quot;Liberation Serif&quot;, serif" font-size="10" font-weight="bold" text-anchor="middle" fill="#000" >9</text>
<text x="197.5" y="403.3" font-family="&quot;Liberation Serif&quot;, serif" font-size="10" font-weight="bold" text-anchor="middle" fill="#000" >12</text>
<text x="216.1" y="403.3" font-family="&quot;Liberation Serif&quot;, serif" font-size="10" font-weight="bold" text-anchor="middle" fill="#000" >15</text>
<text x="94.3" y="422.2" font-family="&quot;Liberation Serif&quot;, serif" font-size="10" font-weight="bold" text-anchor="end" fill="#000" >p-Histone H3(T3)</text>
<text x="94.3" y="443.4" font-family="&quot;Liberation Serif&quot;, serif" font-size="10" font-weight="bold" text-anchor="end" fill="#000" >GAPDH</text>
<rect x="99" y="408.4" width="128" height="20.3" fill="#a6a6a6"/>
<rect x="99" y="430.6" width="128" height="20" fill="#a8a8a8"/>
<clipPath id="cb3"><rect x="99" y="408.4" width="128" height="20.3"/></clipPath>
<clipPath id="cb4"><rect x="99" y="430.6" width="128" height="20"/></clipPath>
<g filter="url(#bl1)" clip-path="url(#cb3)">
<path d="M164,421.4 Q175,419.2 186,419.2 L186,421.4 Q175,422.4 164,422.6Z" fill="#8a8a8a"/>
<ellipse cx="193" cy="417.6" rx="7" ry="1.3" fill="#767676"/>
<ellipse cx="215" cy="419.9" rx="9.5" ry="2.0" fill="#6a6a6a"/>
<rect x="224.5" y="415" width="2.5" height="11" fill="#585858"/>
<rect x="99" y="408.4" width="128" height="1.2" fill="#999"/>
</g>
<g filter="url(#bl1)" clip-path="url(#cb4)">
<rect x="166" y="431" width="5" height="7" fill="#959595"/>
<rect x="182" y="431" width="5" height="7" fill="#969696"/>
<rect x="211" y="431" width="6" height="7" fill="#999"/>
<ellipse cx="110" cy="441.3" rx="12.5" ry="3.9" fill="#0c0c0c"/>
<ellipse cx="133.5" cy="441.3" rx="10.5" ry="3.4" fill="#141414"/>
<ellipse cx="156" cy="441.1" rx="11" ry="3.8" fill="#0c0c0c"/>
<ellipse cx="176" cy="441.6" rx="10.5" ry="3.9" fill="#101010"/>
<ellipse cx="196" cy="442" rx="11" ry="3.9" fill="#0c0c0c"/>
<ellipse cx="216.5" cy="443" rx="11.5" ry="4.1" fill="#0e0e0e"/>
</g>
<text x="244.3" y="252.8" font-family="&quot;Liberation Serif&quot;, serif" font-size="14.3" font-weight="bold" text-anchor="start" fill="#000" >C</text>
<text x="371.9" y="259.6" font-family="&quot;Liberation Serif&quot;, serif" font-size="13.8" text-anchor="start" fill="#000" stroke="#000" stroke-width="0.14" >HepG2</text>
<text x="561" y="262" font-family="&quot;Liberation Serif&quot;, serif" font-size="13.8" text-anchor="start" fill="#000" stroke="#000" stroke-width="0.14" >UMUC-3</text>
<line x1="310.5" y1="271.6" x2="310.5" y2="342.1" stroke="#151515" stroke-width="1.3" />
<line x1="307.9" y1="342.1" x2="310.5" y2="342.1" stroke="#222" stroke-width="0.8" />
<text x="307.1" y="343.6" font-family="&quot;Liberation Sans&quot;, sans-serif" font-size="4.3" font-weight="bold" text-anchor="end" fill="#111" >0.0</text>
<line x1="307.9" y1="330.35" x2="310.5" y2="330.35" stroke="#222" stroke-width="0.8" />
<text x="307.1" y="331.85" font-family="&quot;Liberation Sans&quot;, sans-serif" font-size="4.3" font-weight="bold" text-anchor="end" fill="#111" >0.5</text>
<line x1="307.9" y1="318.6" x2="310.5" y2="318.6" stroke="#222" stroke-width="0.8" />
<text x="307.1" y="320.1" font-family="&quot;Liberation Sans&quot;, sans-serif" font-size="4.3" font-weight="bold" text-anchor="end" fill="#111" >1.0</text>
<line x1="307.9" y1="306.85" x2="310.5" y2="306.85" stroke="#222" stroke-width="0.8" />
<text x="307.1" y="308.35" font-family="&quot;Liberation Sans&quot;, sans-serif" font-size="4.3" font-weight="bold" text-anchor="end" fill="#111" >1.5</text>
<line x1="307.9" y1="295.1" x2="310.5" y2="295.1" stroke="#222" stroke-width="0.8" />
<text x="307.1" y="296.6" font-family="&quot;Liberation Sans&quot;, sans-serif" font-size="4.3" font-weight="bold" text-anchor="end" fill="#111" >2.0</text>
<line x1="307.9" y1="283.35" x2="310.5" y2="283.35" stroke="#222" stroke-width="0.8" />
<text x="307.1" y="284.85" font-family="&quot;Liberation Sans&quot;, sans-serif" font-size="4.3" font-weight="bold" text-anchor="end" fill="#111" >2.5</text>
<line x1="307.9" y1="271.6" x2="310.5" y2="271.6" stroke="#222" stroke-width="0.8" />
<text x="307.1" y="273.1" font-family="&quot;Liberation Sans&quot;, sans-serif" font-size="4.3" font-weight="bold" text-anchor="end" fill="#111" >3.0</text>
<text x="291.9" y="307.35" font-family="&quot;Liberation Serif&quot;, serif" font-size="6" font-weight="bold" text-anchor="middle" fill="#111" textLength="52.5" lengthAdjust="spacingAndGlyphs" transform="rotate(-90 291.9 307.35)" dominant-baseline="central">Relative mRNA Expression</text>
<path d="M323.2,318.6 L349,329.41 L374.7,291.58 L400.4,301.68 L426.2,339.75 L451.9,337.17" fill="none" stroke="#151515" stroke-width="1.1" stroke-linejoin="round"/>
<line x1="349" y1="326.47" x2="349" y2="332.35" stroke="#111" stroke-width="0.8" />
<line x1="347.4" y1="326.47" x2="350.6" y2="326.47" stroke="#111" stroke-width="0.8" />
<line x1="347.4" y1="332.35" x2="350.6" y2="332.35" stroke="#111" stroke-width="0.8" />
<line x1="347.4" y1="329.41" x2="350.6" y2="329.41" stroke="#111" stroke-width="0.9" />
<line x1="374.7" y1="288.75" x2="374.7" y2="294.4" stroke="#111" stroke-width="0.8" />
<line x1="373.1" y1="288.75" x2="376.3" y2="288.75" stroke="#111" stroke-width="0.8" />
<line x1="373.1" y1="294.4" x2="376.3" y2="294.4" stroke="#111" stroke-width="0.8" />
<line x1="373.1" y1="291.58" x2="376.3" y2="291.58" stroke="#111" stroke-width="0.9" />
<line x1="400.4" y1="299.8" x2="400.4" y2="303.56" stroke="#111" stroke-width="0.8" />
<line x1="398.8" y1="299.8" x2="402" y2="299.8" stroke="#111" stroke-width="0.8" />
<line x1="398.8" y1="303.56" x2="402" y2="303.56" stroke="#111" stroke-width="0.8" />
<line x1="398.8" y1="301.68" x2="402" y2="301.68" stroke="#111" stroke-width="0.9" />
<line x1="426.2" y1="339.05" x2="426.2" y2="340.46" stroke="#111" stroke-width="0.8" />
<line x1="424.6" y1="339.05" x2="427.8" y2="339.05" stroke="#111" stroke-width="0.8" />
<line x1="424.6" y1="340.46" x2="427.8" y2="340.46" stroke="#111" stroke-width="0.8" />
<line x1="424.6" y1="339.75" x2="427.8" y2="339.75" stroke="#111" stroke-width="0.9" />
<line x1="451.9" y1="335.52" x2="451.9" y2="338.81" stroke="#111" stroke-width="0.8" />
<line x1="450.3" y1="335.52" x2="453.5" y2="335.52" stroke="#111" stroke-width="0.8" />
<line x1="450.3" y1="338.81" x2="453.5" y2="338.81" stroke="#111" stroke-width="0.8" />
<line x1="450.3" y1="337.17" x2="453.5" y2="337.17" stroke="#111" stroke-width="0.9" />
<line x1="310.5" y1="348.5" x2="310.5" y2="418.3" stroke="#151515" stroke-width="1.3" />
<line x1="307.9" y1="418.3" x2="310.5" y2="418.3" stroke="#222" stroke-width="0.8" />
<text x="307.1" y="419.8" font-family="&quot;Liberation Sans&quot;, sans-serif" font-size="4.3" font-weight="bold" text-anchor="end" fill="#111" >0.0</text>
<line x1="308.9" y1="406.67" x2="310.5" y2="406.67" stroke="#222" stroke-width="0.8" />
<line x1="307.9" y1="395.03" x2="310.5" y2="395.03" stroke="#222" stroke-width="0.8" />
<text x="307.1" y="396.53" font-family="&quot;Liberation Sans&quot;, sans-serif" font-size="4.3" font-weight="bold" text-anchor="end" fill="#111" >0.5</text>
<line x1="308.9" y1="383.4" x2="310.5" y2="383.4" stroke="#222" stroke-width="0.8" />
<line x1="307.9" y1="371.77" x2="310.5" y2="371.77" stroke="#222" stroke-width="0.8" />
<text x="307.1" y="373.27" font-family="&quot;Liberation Sans&quot;, sans-serif" font-size="4.3" font-weight="bold" text-anchor="end" fill="#111" >1.0</text>
<line x1="308.9" y1="360.13" x2="310.5" y2="360.13" stroke="#222" stroke-width="0.8" />
<line x1="307.9" y1="348.5" x2="310.5" y2="348.5" stroke="#222" stroke-width="0.8" />
<text x="307.1" y="350" font-family="&quot;Liberation Sans&quot;, sans-serif" font-size="4.3" font-weight="bold" text-anchor="end" fill="#111" >1.5</text>
<text x="291.9" y="383.9" font-family="&quot;Liberation Serif&quot;, serif" font-size="6" font-weight="bold" text-anchor="middle" fill="#111" textLength="52.5" lengthAdjust="spacingAndGlyphs" transform="rotate(-90 291.9 383.9)" dominant-baseline="central">Relative mRNA Expression</text>
<path d="M323.2,371.77 L349,413.65 L374.7,411.79 L400.4,415.97 L426.2,418.3 L451.9,416.44" fill="none" stroke="#151515" stroke-width="1.1" stroke-linejoin="round"/>
<line x1="349" y1="411.32" x2="349" y2="415.97" stroke="#111" stroke-width="0.8" />
<line x1="347.4" y1="411.32" x2="350.6" y2="411.32" stroke="#111" stroke-width="0.8" />
<line x1="347.4" y1="415.97" x2="350.6" y2="415.97" stroke="#111" stroke-width="0.8" />
<line x1="347.4" y1="413.65" x2="350.6" y2="413.65" stroke="#111" stroke-width="0.9" />
<line x1="374.7" y1="406.2" x2="374.7" y2="417.37" stroke="#111" stroke-width="0.8" />
<line x1="373.1" y1="406.2" x2="376.3" y2="406.2" stroke="#111" stroke-width="0.8" />
<line x1="373.1" y1="417.37" x2="376.3" y2="417.37" stroke="#111" stroke-width="0.8" />
<line x1="373.1" y1="411.79" x2="376.3" y2="411.79" stroke="#111" stroke-width="0.9" />
<line x1="400.4" y1="414.11" x2="400.4" y2="417.83" stroke="#111" stroke-width="0.8" />
<line x1="398.8" y1="414.11" x2="402" y2="414.11" stroke="#111" stroke-width="0.8" />
<line x1="398.8" y1="417.83" x2="402" y2="417.83" stroke="#111" stroke-width="0.8" />
<line x1="398.8" y1="415.97" x2="402" y2="415.97" stroke="#111" stroke-width="0.9" />
<line x1="424.6" y1="418.3" x2="427.8" y2="418.3" stroke="#111" stroke-width="0.9" />
<line x1="450.3" y1="416.44" x2="453.5" y2="416.44" stroke="#111" stroke-width="0.9" />
<line x1="310.5" y1="424.9" x2="310.5" y2="494.8" stroke="#151515" stroke-width="1.3" />
<line x1="307.9" y1="494.8" x2="310.5" y2="494.8" stroke="#222" stroke-width="0.8" />
<text x="307.1" y="496.3" font-family="&quot;Liberation Sans&quot;, sans-serif" font-size="4.3" font-weight="bold" text-anchor="end" fill="#111" >0.0</text>
<line x1="308.9" y1="483.15" x2="310.5" y2="483.15" stroke="#222" stroke-width="0.8" />
<line x1="307.9" y1="471.5" x2="310.5" y2="471.5" stroke="#222" stroke-width="0.8" />
<text x="307.1" y="473" font-family="&quot;Liberation Sans&quot;, sans-serif" font-size="4.3" font-weight="bold" text-anchor="end" fill="#111" >0.5</text>
<line x1="308.9" y1="459.85" x2="310.5" y2="459.85" stroke="#222" stroke-width="0.8" />
<line x1="307.9" y1="448.2" x2="310.5" y2="448.2" stroke="#222" stroke-width="0.8" />
<text x="307.1" y="449.7" font-family="&quot;Liberation Sans&quot;, sans-serif" font-size="4.3" font-weight="bold" text-anchor="end" fill="#111" >1.0</text>
<line x1="308.9" y1="436.55" x2="310.5" y2="436.55" stroke="#222" stroke-width="0.8" />
<line x1="307.9" y1="424.9" x2="310.5" y2="424.9" stroke="#222" stroke-width="0.8" />
<text x="307.1" y="426.4" font-family="&quot;Liberation Sans&quot;, sans-serif" font-size="4.3" font-weight="bold" text-anchor="end" fill="#111" >1.5</text>
<text x="291.9" y="460.35" font-family="&quot;Liberation Serif&quot;, serif" font-size="6" font-weight="bold" text-anchor="middle" fill="#111" textLength="52.5" lengthAdjust="spacingAndGlyphs" transform="rotate(-90 291.9 460.35)" dominant-baseline="central">Relative mRNA Expression</text>
<path d="M323.2,448.2 L349,488.74 L374.7,447.73 L400.4,475.23 L426.2,494.8 L451.9,494.8" fill="none" stroke="#151515" stroke-width="1.1" stroke-linejoin="round"/>
<line x1="349" y1="486.41" x2="349" y2="491.07" stroke="#111" stroke-width="0.8" />
<line x1="347.4" y1="486.41" x2="350.6" y2="486.41" stroke="#111" stroke-width="0.8" />
<line x1="347.4" y1="491.07" x2="350.6" y2="491.07" stroke="#111" stroke-width="0.8" />
<line x1="347.4" y1="488.74" x2="350.6" y2="488.74" stroke="#111" stroke-width="0.9" />
<line x1="374.7" y1="444.47" x2="374.7" y2="451" stroke="#111" stroke-width="0.8" />
<line x1="373.1" y1="444.47" x2="376.3" y2="444.47" stroke="#111" stroke-width="0.8" />
<line x1="373.1" y1="451" x2="376.3" y2="451" stroke="#111" stroke-width="0.8" />
<line x1="373.1" y1="447.73" x2="376.3" y2="447.73" stroke="#111" stroke-width="0.9" />
<line x1="400.4" y1="464.51" x2="400.4" y2="485.95" stroke="#111" stroke-width="0.8" />
<line x1="398.8" y1="464.51" x2="402" y2="464.51" stroke="#111" stroke-width="0.8" />
<line x1="398.8" y1="485.95" x2="402" y2="485.95" stroke="#111" stroke-width="0.8" />
<line x1="398.8" y1="475.23" x2="402" y2="475.23" stroke="#111" stroke-width="0.9" />
<line x1="424.6" y1="494.8" x2="427.8" y2="494.8" stroke="#111" stroke-width="0.9" />
<line x1="450.3" y1="494.8" x2="453.5" y2="494.8" stroke="#111" stroke-width="0.9" />
<line x1="310.5" y1="500.1" x2="310.5" y2="570.1" stroke="#151515" stroke-width="1.3" />
<line x1="307.9" y1="570.1" x2="310.5" y2="570.1" stroke="#222" stroke-width="0.8" />
<text x="307.1" y="571.6" font-family="&quot;Liberation Sans&quot;, sans-serif" font-size="4.3" font-weight="bold" text-anchor="end" fill="#111" >0.0</text>
<line x1="308.9" y1="558.43" x2="310.5" y2="558.43" stroke="#222" stroke-width="0.8" />
<line x1="307.9" y1="546.77" x2="310.5" y2="546.77" stroke="#222" stroke-width="0.8" />
<text x="307.1" y="548.27" font-family="&quot;Liberation Sans&quot;, sans-serif" font-size="4.3" font-weight="bold" text-anchor="end" fill="#111" >0.5</text>
<line x1="308.9" y1="535.1" x2="310.5" y2="535.1" stroke="#222" stroke-width="0.8" />
<line x1="307.9" y1="523.43" x2="310.5" y2="523.43" stroke="#222" stroke-width="0.8" />
<text x="307.1" y="524.93" font-family="&quot;Liberation Sans&quot;, sans-serif" font-size="4.3" font-weight="bold" text-anchor="end" fill="#111" >1.0</text>
<line x1="308.9" y1="511.77" x2="310.5" y2="511.77" stroke="#222" stroke-width="0.8" />
<line x1="307.9" y1="500.1" x2="310.5" y2="500.1" stroke="#222" stroke-width="0.8" />
<text x="307.1" y="501.6" font-family="&quot;Liberation Sans&quot;, sans-serif" font-size="4.3" font-weight="bold" text-anchor="end" fill="#111" >1.5</text>
<text x="291.9" y="535.6" font-family="&quot;Liberation Serif&quot;, serif" font-size="6" font-weight="bold" text-anchor="middle" fill="#111" textLength="52.5" lengthAdjust="spacingAndGlyphs" transform="rotate(-90 291.9 535.6)" dominant-baseline="central">Relative mRNA Expression</text>
<path d="M323.2,523.43 L349,565.11 L374.7,551.43 L400.4,561.7 L426.2,570.1 L451.9,568" fill="none" stroke="#151515" stroke-width="1.1" stroke-linejoin="round"/>
<line x1="347.4" y1="565.11" x2="350.6" y2="565.11" stroke="#111" stroke-width="0.9" />
<line x1="374.7" y1="549.1" x2="374.7" y2="553.77" stroke="#111" stroke-width="0.8" />
<line x1="373.1" y1="549.1" x2="376.3" y2="549.1" stroke="#111" stroke-width="0.8" />
<line x1="373.1" y1="553.77" x2="376.3" y2="553.77" stroke="#111" stroke-width="0.8" />
<line x1="373.1" y1="551.43" x2="376.3" y2="551.43" stroke="#111" stroke-width="0.9" />
<line x1="400.4" y1="557.03" x2="400.4" y2="566.37" stroke="#111" stroke-width="0.8" />
<line x1="398.8" y1="557.03" x2="402" y2="557.03" stroke="#111" stroke-width="0.8" />
<line x1="398.8" y1="566.37" x2="402" y2="566.37" stroke="#111" stroke-width="0.8" />
<line x1="398.8" y1="561.7" x2="402" y2="561.7" stroke="#111" stroke-width="0.9" />
<line x1="424.6" y1="570.1" x2="427.8" y2="570.1" stroke="#111" stroke-width="0.9" />
<line x1="450.3" y1="568" x2="453.5" y2="568" stroke="#111" stroke-width="0.9" />
<line x1="310.5" y1="574.8" x2="310.5" y2="646.1" stroke="#151515" stroke-width="1.3" />
<line x1="307.9" y1="646.1" x2="310.5" y2="646.1" stroke="#222" stroke-width="0.8" />
<text x="307.1" y="647.6" font-family="&quot;Liberation Sans&quot;, sans-serif" font-size="4.3" font-weight="bold" text-anchor="end" fill="#111" >0.0</text>
<line x1="308.9" y1="634.22" x2="310.5" y2="634.22" stroke="#222" stroke-width="0.8" />
<line x1="307.9" y1="622.33" x2="310.5" y2="622.33" stroke="#222" stroke-width="0.8" />
<text x="307.1" y="623.83" font-family="&quot;Liberation Sans&quot;, sans-serif" font-size="4.3" font-weight="bold" text-anchor="end" fill="#111" >0.5</text>
<line x1="308.9" y1="610.45" x2="310.5" y2="610.45" stroke="#222" stroke-width="0.8" />
<line x1="307.9" y1="598.57" x2="310.5" y2="598.57" stroke="#222" stroke-width="0.8" />
<text x="307.1" y="600.07" font-family="&quot;Liberation Sans&quot;, sans-serif" font-size="4.3" font-weight="bold" text-anchor="end" fill="#111" >1.0</text>
<line x1="308.9" y1="586.68" x2="310.5" y2="586.68" stroke="#222" stroke-width="0.8" />
<line x1="307.9" y1="574.8" x2="310.5" y2="574.8" stroke="#222" stroke-width="0.8" />
<text x="307.1" y="576.3" font-family="&quot;Liberation Sans&quot;, sans-serif" font-size="4.3" font-weight="bold" text-anchor="end" fill="#111" >1.5</text>
<text x="291.9" y="610.95" font-family="&quot;Liberation Serif&quot;, serif" font-size="6" font-weight="bold" text-anchor="middle" fill="#111" textLength="52.5" lengthAdjust="spacingAndGlyphs" transform="rotate(-90 291.9 610.95)" dominant-baseline="central">Relative mRNA Expression</text>
<path d="M323.2,599.04 L349,642.77 L374.7,621.38 L400.4,639.45 L426.2,645.62 L451.9,645.62" fill="none" stroke="#151515" stroke-width="1.1" stroke-linejoin="round"/>
<line x1="349" y1="639.45" x2="349" y2="646.1" stroke="#111" stroke-width="0.8" />
<line x1="347.4" y1="639.45" x2="350.6" y2="639.45" stroke="#111" stroke-width="0.8" />
<line x1="347.4" y1="646.1" x2="350.6" y2="646.1" stroke="#111" stroke-width="0.8" />
<line x1="347.4" y1="642.77" x2="350.6" y2="642.77" stroke="#111" stroke-width="0.9" />
<line x1="374.7" y1="608.55" x2="374.7" y2="634.22" stroke="#111" stroke-width="0.8" />
<line x1="373.1" y1="608.55" x2="376.3" y2="608.55" stroke="#111" stroke-width="0.8" />
<line x1="373.1" y1="634.22" x2="376.3" y2="634.22" stroke="#111" stroke-width="0.8" />
<line x1="373.1" y1="621.38" x2="376.3" y2="621.38" stroke="#111" stroke-width="0.9" />
<line x1="400.4" y1="635.17" x2="400.4" y2="643.72" stroke="#111" stroke-width="0.8" />
<line x1="398.8" y1="635.17" x2="402" y2="635.17" stroke="#111" stroke-width="0.8" />
<line x1="398.8" y1="643.72" x2="402" y2="643.72" stroke="#111" stroke-width="0.8" />
<line x1="398.8" y1="639.45" x2="402" y2="639.45" stroke="#111" stroke-width="0.9" />
<line x1="424.6" y1="645.62" x2="427.8" y2="645.62" stroke="#111" stroke-width="0.9" />
<line x1="450.3" y1="645.62" x2="453.5" y2="645.62" stroke="#111" stroke-width="0.9" />
<line x1="310.5" y1="652.4" x2="310.5" y2="724.6" stroke="#151515" stroke-width="1.3" />
<line x1="307.9" y1="724.6" x2="310.5" y2="724.6" stroke="#222" stroke-width="0.8" />
<text x="307.1" y="726.1" font-family="&quot;Liberation Sans&quot;, sans-serif" font-size="4.3" font-weight="bold" text-anchor="end" fill="#111" >0.0</text>
<line x1="308.9" y1="712.57" x2="310.5" y2="712.57" stroke="#222" stroke-width="0.8" />
<line x1="307.9" y1="700.53" x2="310.5" y2="700.53" stroke="#222" stroke-width="0.8" />
<text x="307.1" y="702.03" font-family="&quot;Liberation Sans&quot;, sans-serif" font-size="4.3" font-weight="bold" text-anchor="end" fill="#111" >0.5</text>
<line x1="308.9" y1="688.5" x2="310.5" y2="688.5" stroke="#222" stroke-width="0.8" />
<line x1="307.9" y1="676.47" x2="310.5" y2="676.47" stroke="#222" stroke-width="0.8" />
<text x="307.1" y="677.97" font-family="&quot;Liberation Sans&quot;, sans-serif" font-size="4.3" font-weight="bold" text-anchor="end" fill="#111" >1.0</text>
<line x1="308.9" y1="664.43" x2="310.5" y2="664.43" stroke="#222" stroke-width="0.8" />
<line x1="307.9" y1="652.4" x2="310.5" y2="652.4" stroke="#222" stroke-width="0.8" />
<text x="307.1" y="653.9" font-family="&quot;Liberation Sans&quot;, sans-serif" font-size="4.3" font-weight="bold" text-anchor="end" fill="#111" >1.5</text>
<text x="291.9" y="689" font-family="&quot;Liberation Serif&quot;, serif" font-size="6" font-weight="bold" text-anchor="middle" fill="#111" textLength="52.5" lengthAdjust="spacingAndGlyphs" transform="rotate(-90 291.9 689)" dominant-baseline="central">Relative mRNA Expression</text>
<path d="M323.2,676.47 L349,715.94 L374.7,700.05 L400.4,721.71 L426.2,724.12 L451.9,723.64" fill="none" stroke="#151515" stroke-width="1.1" stroke-linejoin="round"/>
<line x1="347.4" y1="715.94" x2="350.6" y2="715.94" stroke="#111" stroke-width="0.9" />
<line x1="374.7" y1="691.39" x2="374.7" y2="708.72" stroke="#111" stroke-width="0.8" />
<line x1="373.1" y1="691.39" x2="376.3" y2="691.39" stroke="#111" stroke-width="0.8" />
<line x1="373.1" y1="708.72" x2="376.3" y2="708.72" stroke="#111" stroke-width="0.8" />
<line x1="373.1" y1="700.05" x2="376.3" y2="700.05" stroke="#111" stroke-width="0.9" />
<line x1="398.8" y1="721.71" x2="402" y2="721.71" stroke="#111" stroke-width="0.9" />
<line x1="424.6" y1="724.12" x2="427.8" y2="724.12" stroke="#111" stroke-width="0.9" />
<line x1="450.3" y1="723.64" x2="453.5" y2="723.64" stroke="#111" stroke-width="0.9" />
<line x1="310.5" y1="724.6" x2="464.2" y2="724.6" stroke="#151515" stroke-width="1.3" />
<line x1="323.2" y1="724.6" x2="323.2" y2="726.8" stroke="#111" stroke-width="0.8" />
<line x1="349" y1="724.6" x2="349" y2="726.8" stroke="#111" stroke-width="0.8" />
<line x1="374.7" y1="724.6" x2="374.7" y2="726.8" stroke="#111" stroke-width="0.8" />
<line x1="400.4" y1="724.6" x2="400.4" y2="726.8" stroke="#111" stroke-width="0.8" />
<line x1="426.2" y1="724.6" x2="426.2" y2="726.8" stroke="#111" stroke-width="0.8" />
<line x1="451.9" y1="724.6" x2="451.9" y2="726.8" stroke="#111" stroke-width="0.8" />
<line x1="336.1" y1="724.6" x2="336.1" y2="725.9" stroke="#333" stroke-width="0.7" />
<line x1="361.85" y1="724.6" x2="361.85" y2="725.9" stroke="#333" stroke-width="0.7" />
<line x1="387.55" y1="724.6" x2="387.55" y2="725.9" stroke="#333" stroke-width="0.7" />
<line x1="413.3" y1="724.6" x2="413.3" y2="725.9" stroke="#333" stroke-width="0.7" />
<line x1="439.05" y1="724.6" x2="439.05" y2="725.9" stroke="#333" stroke-width="0.7" />
<text x="323.2" y="734.3" font-family="&quot;Liberation Serif&quot;, serif" font-size="10.5" text-anchor="middle" fill="#000" stroke="#000" stroke-width="0.12" >0</text>
<text x="349" y="734.3" font-family="&quot;Liberation Serif&quot;, serif" font-size="10.5" text-anchor="middle" fill="#000" stroke="#000" stroke-width="0.12" >3</text>
<text x="374.7" y="734.3" font-family="&quot;Liberation Serif&quot;, serif" font-size="10.5" text-anchor="middle" fill="#000" stroke="#000" stroke-width="0.12" >6</text>
<text x="400.4" y="734.3" font-family="&quot;Liberation Serif&quot;, serif" font-size="10.5" text-anchor="middle" fill="#000" stroke="#000" stroke-width="0.12" >9</text>
<text x="426.2" y="734.3" font-family="&quot;Liberation Serif&quot;, serif" font-size="10.5" text-anchor="middle" fill="#000" stroke="#000" stroke-width="0.12" >12</text>
<text x="454.2" y="734.3" font-family="&quot;Liberation Serif&quot;, serif" font-size="10.5" text-anchor="middle" fill="#000" stroke="#000" stroke-width="0.12" >15h</text>
<line x1="506.5" y1="272.1" x2="506.5" y2="341.9" stroke="#151515" stroke-width="1.3" />
<line x1="503.9" y1="341.9" x2="506.5" y2="341.9" stroke="#222" stroke-width="0.8" />
<text x="503.1" y="343.4" font-family="&quot;Liberation Sans&quot;, sans-serif" font-size="4.3" font-weight="bold" text-anchor="end" fill="#111" >0.0</text>
<line x1="504.9" y1="330.27" x2="506.5" y2="330.27" stroke="#222" stroke-width="0.8" />
<line x1="503.9" y1="318.63" x2="506.5" y2="318.63" stroke="#222" stroke-width="0.8" />
<text x="503.1" y="320.13" font-family="&quot;Liberation Sans&quot;, sans-serif" font-size="4.3" font-weight="bold" text-anchor="end" fill="#111" >0.5</text>
<line x1="504.9" y1="307" x2="506.5" y2="307" stroke="#222" stroke-width="0.8" />
<line x1="503.9" y1="295.37" x2="506.5" y2="295.37" stroke="#222" stroke-width="0.8" />
<text x="503.1" y="296.87" font-family="&quot;Liberation Sans&quot;, sans-serif" font-size="4.3" font-weight="bold" text-anchor="end" fill="#111" >1.0</text>
<line x1="504.9" y1="283.73" x2="506.5" y2="283.73" stroke="#222" stroke-width="0.8" />
<line x1="503.9" y1="272.1" x2="506.5" y2="272.1" stroke="#222" stroke-width="0.8" />
<text x="503.1" y="273.6" font-family="&quot;Liberation Sans&quot;, sans-serif" font-size="4.3" font-weight="bold" text-anchor="end" fill="#111" >1.5</text>
<text x="490.3" y="307.5" font-family="&quot;Liberation Sans&quot;, sans-serif" font-size="6" font-weight="bold" text-anchor="middle" fill="#111" textLength="47.5" lengthAdjust="spacingAndGlyphs" transform="rotate(-90 490.3 307.5)" dominant-baseline="central">Relative mRNA Expression</text>
<path d="M518.6,295.37 L544.2,339.57 L569.9,328.87 L595.6,337.25 L621.3,329.34 L647,339.11" fill="none" stroke="#151515" stroke-width="1.1" stroke-linejoin="round"/>
<line x1="542.6" y1="339.57" x2="545.8" y2="339.57" stroke="#111" stroke-width="0.9" />
<line x1="569.9" y1="324.22" x2="569.9" y2="333.52" stroke="#111" stroke-width="0.8" />
<line x1="568.3" y1="324.22" x2="571.5" y2="324.22" stroke="#111" stroke-width="0.8" />
<line x1="568.3" y1="333.52" x2="571.5" y2="333.52" stroke="#111" stroke-width="0.8" />
<line x1="568.3" y1="328.87" x2="571.5" y2="328.87" stroke="#111" stroke-width="0.9" />
<line x1="594" y1="337.25" x2="597.2" y2="337.25" stroke="#111" stroke-width="0.9" />
<line x1="621.3" y1="325.61" x2="621.3" y2="333.06" stroke="#111" stroke-width="0.8" />
<line x1="619.7" y1="325.61" x2="622.9" y2="325.61" stroke="#111" stroke-width="0.8" />
<line x1="619.7" y1="333.06" x2="622.9" y2="333.06" stroke="#111" stroke-width="0.8" />
<line x1="619.7" y1="329.34" x2="622.9" y2="329.34" stroke="#111" stroke-width="0.9" />
<line x1="645.4" y1="339.11" x2="648.6" y2="339.11" stroke="#111" stroke-width="0.9" />
<line x1="506.5" y1="349.2" x2="506.5" y2="418" stroke="#151515" stroke-width="1.3" />
<line x1="503.9" y1="418" x2="506.5" y2="418" stroke="#222" stroke-width="0.8" />
<text x="503.1" y="419.5" font-family="&quot;Liberation Sans&quot;, sans-serif" font-size="4.3" font-weight="bold" text-anchor="end" fill="#111" >0.0</text>
<line x1="504.9" y1="406.53" x2="506.5" y2="406.53" stroke="#222" stroke-width="0.8" />
<line x1="503.9" y1="395.07" x2="506.5" y2="395.07" stroke="#222" stroke-width="0.8" />
<text x="503.1" y="396.57" font-family="&quot;Liberation Sans&quot;, sans-serif" font-size="4.3" font-weight="bold" text-anchor="end" fill="#111" >0.5</text>
<line x1="504.9" y1="383.6" x2="506.5" y2="383.6" stroke="#222" stroke-width="0.8" />
<line x1="503.9" y1="372.13" x2="506.5" y2="372.13" stroke="#222" stroke-width="0.8" />
<text x="503.1" y="373.63" font-family="&quot;Liberation Sans&quot;, sans-serif" font-size="4.3" font-weight="bold" text-anchor="end" fill="#111" >1.0</text>
<line x1="504.9" y1="360.67" x2="506.5" y2="360.67" stroke="#222" stroke-width="0.8" />
<line x1="503.9" y1="349.2" x2="506.5" y2="349.2" stroke="#222" stroke-width="0.8" />
<text x="503.1" y="350.7" font-family="&quot;Liberation Sans&quot;, sans-serif" font-size="4.3" font-weight="bold" text-anchor="end" fill="#111" >1.5</text>
<text x="490.3" y="384.1" font-family="&quot;Liberation Sans&quot;, sans-serif" font-size="6" font-weight="bold" text-anchor="middle" fill="#111" textLength="47.5" lengthAdjust="spacingAndGlyphs" transform="rotate(-90 490.3 384.1)" dominant-baseline="central">Relative mRNA Expression</text>
<path d="M518.6,372.59 L544.2,413.87 L569.9,406.99 L595.6,413.87 L621.3,368.01 L647,410.66" fill="none" stroke="#151515" stroke-width="1.1" stroke-linejoin="round"/>
<line x1="542.6" y1="413.87" x2="545.8" y2="413.87" stroke="#111" stroke-width="0.9" />
<line x1="568.3" y1="406.99" x2="571.5" y2="406.99" stroke="#111" stroke-width="0.9" />
<line x1="594" y1="413.87" x2="597.2" y2="413.87" stroke="#111" stroke-width="0.9" />
<line x1="621.3" y1="364.79" x2="621.3" y2="371.22" stroke="#111" stroke-width="0.8" />
<line x1="619.7" y1="364.79" x2="622.9" y2="364.79" stroke="#111" stroke-width="0.8" />
<line x1="619.7" y1="371.22" x2="622.9" y2="371.22" stroke="#111" stroke-width="0.8" />
<line x1="619.7" y1="368.01" x2="622.9" y2="368.01" stroke="#111" stroke-width="0.9" />
<line x1="645.4" y1="410.66" x2="648.6" y2="410.66" stroke="#111" stroke-width="0.9" />
<line x1="506.5" y1="425.5" x2="506.5" y2="494.6" stroke="#151515" stroke-width="1.3" />
<line x1="503.9" y1="494.6" x2="506.5" y2="494.6" stroke="#222" stroke-width="0.8" />
<text x="503.1" y="496.1" font-family="&quot;Liberation Sans&quot;, sans-serif" font-size="4.3" font-weight="bold" text-anchor="end" fill="#111" >0.0</text>
<line x1="504.9" y1="487.69" x2="506.5" y2="487.69" stroke="#222" stroke-width="0.8" />
<line x1="503.9" y1="480.78" x2="506.5" y2="480.78" stroke="#222" stroke-width="0.8" />
<text x="503.1" y="482.28" font-family="&quot;Liberation Sans&quot;, sans-serif" font-size="4.3" font-weight="bold" text-anchor="end" fill="#111" >0.5</text>
<line x1="504.9" y1="473.87" x2="506.5" y2="473.87" stroke="#222" stroke-width="0.8" />
<line x1="503.9" y1="466.96" x2="506.5" y2="466.96" stroke="#222" stroke-width="0.8" />
<text x="503.1" y="468.46" font-family="&quot;Liberation Sans&quot;, sans-serif" font-size="4.3" font-weight="bold" text-anchor="end" fill="#111" >1.0</text>
<line x1="504.9" y1="460.05" x2="506.5" y2="460.05" stroke="#222" stroke-width="0.8" />
<line x1="503.9" y1="453.14" x2="506.5" y2="453.14" stroke="#222" stroke-width="0.8" />
<text x="503.1" y="454.64" font-family="&quot;Liberation Sans&quot;, sans-serif" font-size="4.3" font-weight="bold" text-anchor="end" fill="#111" >1.5</text>
<line x1="504.9" y1="446.23" x2="506.5" y2="446.23" stroke="#222" stroke-width="0.8" />
<line x1="503.9" y1="439.32" x2="506.5" y2="439.32" stroke="#222" stroke-width="0.8" />
<text x="503.1" y="440.82" font-family="&quot;Liberation Sans&quot;, sans-serif" font-size="4.3" font-weight="bold" text-anchor="end" fill="#111" >2.0</text>
<line x1="504.9" y1="432.41" x2="506.5" y2="432.41" stroke="#222" stroke-width="0.8" />
<line x1="503.9" y1="425.5" x2="506.5" y2="425.5" stroke="#222" stroke-width="0.8" />
<text x="503.1" y="427" font-family="&quot;Liberation Sans&quot;, sans-serif" font-size="4.3" font-weight="bold" text-anchor="end" fill="#111" >2.5</text>
<text x="490.3" y="460.55" font-family="&quot;Liberation Sans&quot;, sans-serif" font-size="6" font-weight="bold" text-anchor="middle" fill="#111" textLength="47.5" lengthAdjust="spacingAndGlyphs" transform="rotate(-90 490.3 460.55)" dominant-baseline="central">Relative mRNA Expression</text>
<path d="M518.6,467.24 L544.2,492.67 L569.9,483.27 L595.6,489.62 L621.3,441.81 L647,491.01" fill="none" stroke="#151515" stroke-width="1.1" stroke-linejoin="round"/>
<line x1="542.6" y1="492.67" x2="545.8" y2="492.67" stroke="#111" stroke-width="0.9" />
<line x1="569.9" y1="482.16" x2="569.9" y2="484.37" stroke="#111" stroke-width="0.8" />
<line x1="568.3" y1="482.16" x2="571.5" y2="482.16" stroke="#111" stroke-width="0.8" />
<line x1="568.3" y1="484.37" x2="571.5" y2="484.37" stroke="#111" stroke-width="0.8" />
<line x1="568.3" y1="483.27" x2="571.5" y2="483.27" stroke="#111" stroke-width="0.9" />
<line x1="594" y1="489.62" x2="597.2" y2="489.62" stroke="#111" stroke-width="0.9" />
<line x1="621.3" y1="439.04" x2="621.3" y2="444.57" stroke="#111" stroke-width="0.8" />
<line x1="619.7" y1="439.04" x2="622.9" y2="439.04" stroke="#111" stroke-width="0.8" />
<line x1="619.7" y1="444.57" x2="622.9" y2="444.57" stroke="#111" stroke-width="0.8" />
<line x1="619.7" y1="441.81" x2="622.9" y2="441.81" stroke="#111" stroke-width="0.9" />
<line x1="645.4" y1="491.01" x2="648.6" y2="491.01" stroke="#111" stroke-width="0.9" />
<line x1="506.5" y1="501" x2="506.5" y2="570.3" stroke="#151515" stroke-width="1.3" />
<line x1="503.9" y1="570.3" x2="506.5" y2="570.3" stroke="#222" stroke-width="0.8" />
<text x="503.1" y="571.8" font-family="&quot;Liberation Sans&quot;, sans-serif" font-size="4.3" font-weight="bold" text-anchor="end" fill="#111" >0.0</text>
<line x1="504.9" y1="558.75" x2="506.5" y2="558.75" stroke="#222" stroke-width="0.8" />
<line x1="503.9" y1="547.2" x2="506.5" y2="547.2" stroke="#222" stroke-width="0.8" />
<text x="503.1" y="548.7" font-family="&quot;Liberation Sans&quot;, sans-serif" font-size="4.3" font-weight="bold" text-anchor="end" fill="#111" >0.5</text>
<line x1="504.9" y1="535.65" x2="506.5" y2="535.65" stroke="#222" stroke-width="0.8" />
<line x1="503.9" y1="524.1" x2="506.5" y2="524.1" stroke="#222" stroke-width="0.8" />
<text x="503.1" y="525.6" font-family="&quot;Liberation Sans&quot;, sans-serif" font-size="4.3" font-weight="bold" text-anchor="end" fill="#111" >1.0</text>
<line x1="504.9" y1="512.55" x2="506.5" y2="512.55" stroke="#222" stroke-width="0.8" />
<line x1="503.9" y1="501" x2="506.5" y2="501" stroke="#222" stroke-width="0.8" />
<text x="503.1" y="502.5" font-family="&quot;Liberation Sans&quot;, sans-serif" font-size="4.3" font-weight="bold" text-anchor="end" fill="#111" >1.5</text>
<text x="490.3" y="536.15" font-family="&quot;Liberation Sans&quot;, sans-serif" font-size="6" font-weight="bold" text-anchor="middle" fill="#111" textLength="47.5" lengthAdjust="spacingAndGlyphs" transform="rotate(-90 490.3 536.15)" dominant-baseline="central">Relative mRNA Expression</text>
<path d="M518.6,524.56 L544.2,570.3 L569.9,564.76 L595.6,570.3 L621.3,539.81 L647,567.53" fill="none" stroke="#151515" stroke-width="1.1" stroke-linejoin="round"/>
<line x1="542.6" y1="570.3" x2="545.8" y2="570.3" stroke="#111" stroke-width="0.9" />
<line x1="568.3" y1="564.76" x2="571.5" y2="564.76" stroke="#111" stroke-width="0.9" />
<line x1="594" y1="570.3" x2="597.2" y2="570.3" stroke="#111" stroke-width="0.9" />
<line x1="621.3" y1="537.04" x2="621.3" y2="542.58" stroke="#111" stroke-width="0.8" />
<line x1="619.7" y1="537.04" x2="622.9" y2="537.04" stroke="#111" stroke-width="0.8" />
<line x1="619.7" y1="542.58" x2="622.9" y2="542.58" stroke="#111" stroke-width="0.8" />
<line x1="619.7" y1="539.81" x2="622.9" y2="539.81" stroke="#111" stroke-width="0.9" />
<line x1="645.4" y1="567.53" x2="648.6" y2="567.53" stroke="#111" stroke-width="0.9" />
<line x1="506.5" y1="576.1" x2="506.5" y2="646.1" stroke="#151515" stroke-width="1.3" />
<line x1="503.9" y1="646.1" x2="506.5" y2="646.1" stroke="#222" stroke-width="0.8" />
<text x="503.1" y="647.6" font-family="&quot;Liberation Sans&quot;, sans-serif" font-size="4.3" font-weight="bold" text-anchor="end" fill="#111" >0.0</text>
<line x1="504.9" y1="634.43" x2="506.5" y2="634.43" stroke="#222" stroke-width="0.8" />
<line x1="503.9" y1="622.77" x2="506.5" y2="622.77" stroke="#222" stroke-width="0.8" />
<text x="503.1" y="624.27" font-family="&quot;Liberation Sans&quot;, sans-serif" font-size="4.3" font-weight="bold" text-anchor="end" fill="#111" >0.5</text>
<line x1="504.9" y1="611.1" x2="506.5" y2="611.1" stroke="#222" stroke-width="0.8" />
<line x1="503.9" y1="599.43" x2="506.5" y2="599.43" stroke="#222" stroke-width="0.8" />
<text x="503.1" y="600.93" font-family="&quot;Liberation Sans&quot;, sans-serif" font-size="4.3" font-weight="bold" text-anchor="end" fill="#111" >1.0</text>
<line x1="504.9" y1="587.77" x2="506.5" y2="587.77" stroke="#222" stroke-width="0.8" />
<line x1="503.9" y1="576.1" x2="506.5" y2="576.1" stroke="#222" stroke-width="0.8" />
<text x="503.1" y="577.6" font-family="&quot;Liberation Sans&quot;, sans-serif" font-size="4.3" font-weight="bold" text-anchor="end" fill="#111" >1.5</text>
<text x="490.3" y="611.6" font-family="&quot;Liberation Sans&quot;, sans-serif" font-size="6" font-weight="bold" text-anchor="middle" fill="#111" textLength="47.5" lengthAdjust="spacingAndGlyphs" transform="rotate(-90 490.3 611.6)" dominant-baseline="central">Relative mRNA Expression</text>
<path d="M518.6,599.9 L544.2,642.37 L569.9,641.9 L595.6,640.97 L621.3,588.23 L647,601.3" fill="none" stroke="#151515" stroke-width="1.1" stroke-linejoin="round"/>
<line x1="542.6" y1="642.37" x2="545.8" y2="642.37" stroke="#111" stroke-width="0.9" />
<line x1="568.3" y1="641.9" x2="571.5" y2="641.9" stroke="#111" stroke-width="0.9" />
<line x1="595.6" y1="637.7" x2="595.6" y2="644.23" stroke="#111" stroke-width="0.8" />
<line x1="594" y1="637.7" x2="597.2" y2="637.7" stroke="#111" stroke-width="0.8" />
<line x1="594" y1="644.23" x2="597.2" y2="644.23" stroke="#111" stroke-width="0.8" />
<line x1="594" y1="640.97" x2="597.2" y2="640.97" stroke="#111" stroke-width="0.9" />
<line x1="621.3" y1="584.5" x2="621.3" y2="591.97" stroke="#111" stroke-width="0.8" />
<line x1="619.7" y1="584.5" x2="622.9" y2="584.5" stroke="#111" stroke-width="0.8" />
<line x1="619.7" y1="591.97" x2="622.9" y2="591.97" stroke="#111" stroke-width="0.8" />
<line x1="619.7" y1="588.23" x2="622.9" y2="588.23" stroke="#111" stroke-width="0.9" />
<line x1="647" y1="594.3" x2="647" y2="608.3" stroke="#111" stroke-width="0.8" />
<line x1="645.4" y1="594.3" x2="648.6" y2="594.3" stroke="#111" stroke-width="0.8" />
<line x1="645.4" y1="608.3" x2="648.6" y2="608.3" stroke="#111" stroke-width="0.8" />
<line x1="645.4" y1="601.3" x2="648.6" y2="601.3" stroke="#111" stroke-width="0.9" />
<line x1="506.5" y1="655.1" x2="506.5" y2="723.1" stroke="#151515" stroke-width="1.3" />
<line x1="503.9" y1="723.1" x2="506.5" y2="723.1" stroke="#222" stroke-width="0.8" />
<text x="503.1" y="724.6" font-family="&quot;Liberation Sans&quot;, sans-serif" font-size="4.3" font-weight="bold" text-anchor="end" fill="#111" >0.0</text>
<line x1="504.9" y1="711.77" x2="506.5" y2="711.77" stroke="#222" stroke-width="0.8" />
<line x1="503.9" y1="700.43" x2="506.5" y2="700.43" stroke="#222" stroke-width="0.8" />
<text x="503.1" y="701.93" font-family="&quot;Liberation Sans&quot;, sans-serif" font-size="4.3" font-weight="bold" text-anchor="end" fill="#111" >0.5</text>
<line x1="504.9" y1="689.1" x2="506.5" y2="689.1" stroke="#222" stroke-width="0.8" />
<line x1="503.9" y1="677.77" x2="506.5" y2="677.77" stroke="#222" stroke-width="0.8" />
<text x="503.1" y="679.27" font-family="&quot;Liberation Sans&quot;, sans-serif" font-size="4.3" font-weight="bold" text-anchor="end" fill="#111" >1.0</text>
<line x1="504.9" y1="666.43" x2="506.5" y2="666.43" stroke="#222" stroke-width="0.8" />
<line x1="503.9" y1="655.1" x2="506.5" y2="655.1" stroke="#222" stroke-width="0.8" />
<text x="503.1" y="656.6" font-family="&quot;Liberation Sans&quot;, sans-serif" font-size="4.3" font-weight="bold" text-anchor="end" fill="#111" >1.5</text>
<text x="490.3" y="689.6" font-family="&quot;Liberation Sans&quot;, sans-serif" font-size="6" font-weight="bold" text-anchor="middle" fill="#111" textLength="47.5" lengthAdjust="spacingAndGlyphs" transform="rotate(-90 490.3 689.6)" dominant-baseline="central">Relative mRNA Expression</text>
<path d="M518.6,678.22 L544.2,720.83 L569.9,720.38 L595.6,722.65 L621.3,713.13 L647,722.19" fill="none" stroke="#151515" stroke-width="1.1" stroke-linejoin="round"/>
<line x1="542.6" y1="720.83" x2="545.8" y2="720.83" stroke="#111" stroke-width="0.9" />
<line x1="568.3" y1="720.38" x2="571.5" y2="720.38" stroke="#111" stroke-width="0.9" />
<line x1="594" y1="722.65" x2="597.2" y2="722.65" stroke="#111" stroke-width="0.9" />
<line x1="619.7" y1="713.13" x2="622.9" y2="713.13" stroke="#111" stroke-width="0.9" />
<line x1="645.4" y1="722.19" x2="648.6" y2="722.19" stroke="#111" stroke-width="0.9" />
<line x1="506.5" y1="723.1" x2="660.6" y2="723.1" stroke="#151515" stroke-width="1.3" />
<line x1="518.6" y1="723.1" x2="518.6" y2="725.3" stroke="#111" stroke-width="0.8" />
<line x1="544.2" y1="723.1" x2="544.2" y2="725.3" stroke="#111" stroke-width="0.8" />
<line x1="569.9" y1="723.1" x2="569.9" y2="725.3" stroke="#111" stroke-width="0.8" />
<line x1="595.6" y1="723.1" x2="595.6" y2="725.3" stroke="#111" stroke-width="0.8" />
<line x1="621.3" y1="723.1" x2="621.3" y2="725.3" stroke="#111" stroke-width="0.8" />
<line x1="647" y1="723.1" x2="647" y2="725.3" stroke="#111" stroke-width="0.8" />
<line x1="531.4" y1="723.1" x2="531.4" y2="724.4" stroke="#333" stroke-width="0.7" />
<line x1="557.05" y1="723.1" x2="557.05" y2="724.4" stroke="#333" stroke-width="0.7" />
<line x1="582.75" y1="723.1" x2="582.75" y2="724.4" stroke="#333" stroke-width="0.7" />
<line x1="608.45" y1="723.1" x2="608.45" y2="724.4" stroke="#333" stroke-width="0.7" />
<line x1="634.15" y1="723.1" x2="634.15" y2="724.4" stroke="#333" stroke-width="0.7" />
<text x="518.6" y="734.3" font-family="&quot;Liberation Serif&quot;, serif" font-size="10.5" text-anchor="middle" fill="#000" stroke="#000" stroke-width="0.12" >0</text>
<text x="544.2" y="734.3" font-family="&quot;Liberation Serif&quot;, serif" font-size="10.5" text-anchor="middle" fill="#000" stroke="#000" stroke-width="0.12" >3</text>
<text x="569.9" y="734.3" font-family="&quot;Liberation Serif&quot;, serif" font-size="10.5" text-anchor="middle" fill="#000" stroke="#000" stroke-width="0.12" >6</text>
<text x="595.6" y="734.3" font-family="&quot;Liberation Serif&quot;, serif" font-size="10.5" text-anchor="middle" fill="#000" stroke="#000" stroke-width="0.12" >9</text>
<text x="621.3" y="734.3" font-family="&quot;Liberation Serif&quot;, serif" font-size="10.5" text-anchor="middle" fill="#000" stroke="#000" stroke-width="0.12" >12</text>
<text x="649.3" y="734.3" font-family="&quot;Liberation Serif&quot;, serif" font-size="10.5" text-anchor="middle" fill="#000" stroke="#000" stroke-width="0.12" >15h</text>
<text x="247.7" y="308.6" font-family="&quot;Liberation Serif&quot;, serif" font-size="10.5" text-anchor="start" fill="#000" stroke="#000" stroke-width="0.15" >mcm2</text>
<text x="249.7" y="385.8" font-family="&quot;Liberation Serif&quot;, serif" font-size="10.5" text-anchor="start" fill="#000" stroke="#000" stroke-width="0.15" >mcm3</text>
<text x="250.6" y="459" font-family="&quot;Liberation Serif&quot;, serif" font-size="10.5" text-anchor="start" fill="#000" stroke="#000" stroke-width="0.15" >mcm4</text>
<text x="250.3" y="536.9" font-family="&quot;Liberation Serif&quot;, serif" font-size="10.5" text-anchor="start" fill="#000" stroke="#000" stroke-width="0.15" >mcm5</text>
<text x="249.9" y="615" font-family="&quot;Liberation Serif&quot;, serif" font-size="10.5" text-anchor="start" fill="#000" stroke="#000" stroke-width="0.15" >mcm6</text>
<text x="249.3" y="690.8" font-family="&quot;Liberation Serif&quot;, serif" font-size="10.5" text-anchor="start" fill="#000" stroke="#000" stroke-width="0.15" >mcm7</text>
<text x="316" y="280.1" font-family="&quot;Liberation Serif&quot;, serif" font-size="10.6" text-anchor="start" fill="#000" stroke="#000" stroke-width="0.12" >G1</text>
<text x="359.4" y="280.1" font-family="&quot;Liberation Serif&quot;, serif" font-size="10.6" text-anchor="start" fill="#000" stroke="#000" stroke-width="0.12" >S</text>
<text x="389.4" y="280.1" font-family="&quot;Liberation Serif&quot;, serif" font-size="10.6" text-anchor="start" fill="#000" stroke="#000" stroke-width="0.12" >G2/M</text>
<text x="422" y="280.1" font-family="&quot;Liberation Serif&quot;, serif" font-size="10.6" text-anchor="start" fill="#000" stroke="#000" stroke-width="0.12" >G1</text>
<line x1="328.4" y1="276.5" x2="356.3" y2="276.5" stroke="#222" stroke-width="1" />
<line x1="368.1" y1="276.5" x2="385.2" y2="276.5" stroke="#666" stroke-width="1" />
<line x1="416.3" y1="276.5" x2="420.7" y2="276.5" stroke="#222" stroke-width="1" />
<line x1="434.8" y1="276.5" x2="449.6" y2="276.5" stroke="#222" stroke-width="1" />
<text x="513.1" y="280.2" font-family="&quot;Liberation Serif&quot;, serif" font-size="10.6" text-anchor="start" fill="#000" stroke="#000" stroke-width="0.12" >G1</text>
<text x="540.7" y="280.2" font-family="&quot;Liberation Serif&quot;, serif" font-size="10.6" text-anchor="start" fill="#000" stroke="#000" stroke-width="0.12" >S</text>
<text x="563.8" y="280.2" font-family="&quot;Liberation Serif&quot;, serif" font-size="10.6" text-anchor="start" fill="#000" stroke="#000" stroke-width="0.12" >G2/M</text>
<text x="600.8" y="280.2" font-family="&quot;Liberation Serif&quot;, serif" font-size="10.6" text-anchor="start" fill="#000" stroke="#000" stroke-width="0.12" >G1</text>
<line x1="525.3" y1="276.5" x2="537.9" y2="276.5" stroke="#222" stroke-width="1" />
<line x1="549.6" y1="276.5" x2="561" y2="276.5" stroke="#333" stroke-width="1" />
<line x1="590" y1="276.5" x2="597" y2="276.5" stroke="#222" stroke-width="1" />
<line x1="612.6" y1="276.5" x2="651" y2="276.5" stroke="#777" stroke-width="1" />
</svg></div></body></html>
